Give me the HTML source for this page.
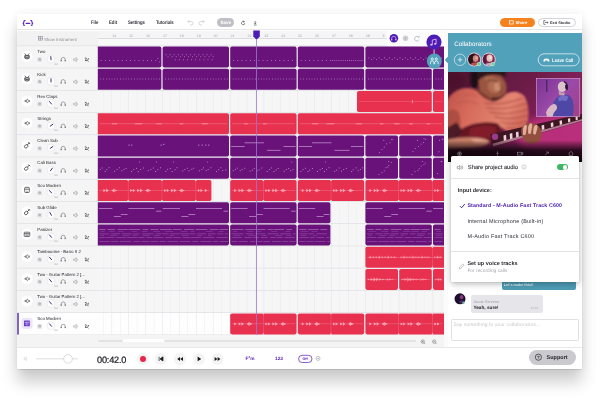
<!DOCTYPE html>
<html><head><meta charset="utf-8"><title>Studio</title>
<style>
*{box-sizing:border-box;margin:0;padding:0}
html,body{width:600px;height:402px;overflow:hidden;background:#fff;font-family:"Liberation Sans",sans-serif;text-rendering:geometricPrecision;}
.abs{position:absolute}
#win{position:absolute;left:17px;top:14px;width:565px;height:355px;background:#fff;box-shadow:0 13px 15px rgba(0,0,0,.2),0 0 9px rgba(0,0,0,.07),0 .5px 1px rgba(0,0,0,.1);}
.t{position:absolute;white-space:nowrap;line-height:1}
#all{position:absolute;left:0;top:0;width:600px;height:402px;will-change:transform}
.pill{position:absolute;border-radius:20px}
</style></head><body>
<div id="all"><div id="win"></div>
<div class="abs" style="left:17px;top:14px;width:565px;height:16.2px;background:#fff;border-bottom:0.7px solid #e6e6e9"></div>
<svg class="abs" style="left:22.4px;top:19.6px" width="11.8" height="6.4" viewBox="0 1 14 7.6" preserveAspectRatio="none"><g fill="none" stroke="#5a22b5" stroke-width="1.3" stroke-linecap="round" stroke-linejoin="round"><path d="M3.6 1.6 Q2.2 1.6 2.2 3 Q2.2 4.6 1.3 5 Q2.2 5.4 2.2 7 Q2.2 8.4 3.6 8.4"/><path d="M10.4 1.6 Q11.8 1.6 11.8 3 Q11.8 4.6 12.7 5 Q11.8 5.4 11.8 7 Q11.8 8.4 10.4 8.4"/><path d="M4.8 5 H9.2"/></g></svg>
<div class="t" style="left:91px;top:21.36px;font-size:5.1px;color:#30303a;font-weight:bold;transform:scaleX(.84);transform-origin:0 50%;">File</div>
<div class="t" style="left:109.2px;top:21.36px;font-size:5.1px;color:#30303a;font-weight:bold;transform:scaleX(.84);transform-origin:0 50%;">Edit</div>
<div class="t" style="left:128.3px;top:21.36px;font-size:5.1px;color:#30303a;font-weight:bold;transform:scaleX(.84);transform-origin:0 50%;">Settings</div>
<div class="t" style="left:156.3px;top:21.36px;font-size:5.1px;color:#30303a;font-weight:bold;transform:scaleX(.84);transform-origin:0 50%;">Tutorials</div>
<svg class="abs" style="left:186.2px;top:19.2px" width="20" height="7" viewBox="0 0 20 7"><g fill="none" stroke="#c8c8ce" stroke-width="0.7"><path d="M2 2.5 H5 Q7 2.5 7 4.2 Q7 6 5 6 H4"/><path d="M3.3 1 L1.8 2.5 L3.3 4"/><path d="M18 2.5 H15 Q13 2.5 13 4.2 Q13 6 15 6 H16"/><path d="M16.7 1 L18.2 2.5 L16.7 4"/></g></svg>
<div class="pill" style="left:216.5px;top:18px;width:17.5px;height:9px;background:#bfbfc5"></div>
<div class="t" style="left:220.4px;top:20.94px;font-size:4.6px;color:#fff;font-weight:bold;">Save</div>
<svg class="abs" style="left:240px;top:18.5px" width="20" height="8" viewBox="0 0 20 8"><g fill="none" stroke="#3a3a44" stroke-width="0.6"><path d="M4.3 2.7 A1.7 1.7 0 1 0 4.9 4.2"/><path d="M3.5 1.7 L4.5 2.8 L3.2 3.3"/><path d="M15.2 2 V4.8 M14.1 3.8 L15.2 4.9 L16.3 3.8 M13.8 6 H16.6"/></g></svg>
<div class="pill" style="left:500px;top:17.8px;width:35px;height:9.4px;background:#f5821f"></div>
<div class="t" style="left:515.4px;top:21.05px;font-size:4.3px;color:#fff;font-weight:bold;">Share</div>
<svg class="abs" style="left:509px;top:20.1px" width="5" height="5" viewBox="0 0 5 5"><rect x="0.6" y="0.8" width="3.6" height="3.2" fill="none" stroke="#fff" stroke-width="0.7"/></svg>
<div class="pill" style="left:538px;top:17.8px;width:37.5px;height:9.4px;background:#fff;border:0.7px solid #d2d2d8"></div>
<div class="t" style="left:550px;top:21.20px;font-size:3.9px;color:#33333b;font-weight:bold;">Exit Studio</div>
<svg class="abs" style="left:543px;top:20px" width="6" height="5" viewBox="0 0 6 5"><g fill="none" stroke="#33333b" stroke-width="0.6"><path d="M2.4 0.6 H0.8 V4.4 H2.4"/><path d="M2 2.5 H5 M3.9 1.4 L5 2.5 L3.9 3.6"/></g></svg>
<div class="abs" style="left:17px;top:30.6px;width:431px;height:15.7px;background:#f2f2f3"></div>
<div class="abs" style="left:97.5px;top:30.6px;width:346.5px;height:8.6px;background:#f5f5f6;border-bottom:0.6px solid #dcdce0"></div>
<div class="abs" style="left:97.5px;top:39.4px;width:346.5px;height:6.9px;background:#f9f9fa"></div>
<svg class="abs" style="left:37.5px;top:36.4px" width="5" height="5" viewBox="0 0 5 5"><g fill="none" stroke="#8a8a92" stroke-width="0.6"><rect x="0.5" y="0.5" width="3.8" height="3.6"/><path d="M0.5 2.3 H4.3 M2.4 0.5 V4.1"/></g></svg>
<div class="t" style="left:43.9px;top:37.72px;font-size:4.4px;color:#8f8f97;">Show Instrument</div>
<div class="t" style="left:112.2px;top:34.90px;font-size:3.6px;color:#a6a6ad;">14</div>
<div class="t" style="left:129.1px;top:34.90px;font-size:3.6px;color:#a6a6ad;">15</div>
<div class="t" style="left:146.0px;top:34.90px;font-size:3.6px;color:#a6a6ad;">16</div>
<div class="t" style="left:162.9px;top:34.90px;font-size:3.6px;color:#a6a6ad;">17</div>
<div class="t" style="left:179.8px;top:34.90px;font-size:3.6px;color:#a6a6ad;">18</div>
<div class="t" style="left:196.7px;top:34.90px;font-size:3.6px;color:#a6a6ad;">19</div>
<div class="t" style="left:213.6px;top:34.90px;font-size:3.6px;color:#a6a6ad;">20</div>
<div class="t" style="left:230.5px;top:34.90px;font-size:3.6px;color:#a6a6ad;">21</div>
<div class="t" style="left:247.4px;top:34.90px;font-size:3.6px;color:#a6a6ad;">22</div>
<div class="t" style="left:264.3px;top:34.90px;font-size:3.6px;color:#a6a6ad;">23</div>
<div class="t" style="left:281.2px;top:34.90px;font-size:3.6px;color:#a6a6ad;">24</div>
<div class="t" style="left:298.1px;top:34.90px;font-size:3.6px;color:#a6a6ad;">25</div>
<div class="t" style="left:315.0px;top:34.90px;font-size:3.6px;color:#a6a6ad;">26</div>
<div class="t" style="left:331.9px;top:34.90px;font-size:3.6px;color:#a6a6ad;">27</div>
<div class="t" style="left:348.8px;top:34.90px;font-size:3.6px;color:#a6a6ad;">28</div>
<div class="t" style="left:365.7px;top:34.90px;font-size:3.6px;color:#a6a6ad;">29</div>
<div class="t" style="left:382.6px;top:34.90px;font-size:3.6px;color:#a6a6ad;">3</div>
<div class="abs" style="left:17px;top:46.0px;width:80.5px;height:289.0px;background:#f5f5f6"></div>
<div class="abs" style="left:97.5px;top:46.0px;width:346.5px;height:289.0px;background:#f6f6f7"></div>
<div class="abs" style="left:17px;top:312.8px;width:427px;height:22.23px;background:#fefefe"></div>
<div class="abs" style="left:17px;top:312.8px;width:1.5px;height:22.23px;background:#8463c4"></div>
<svg class="abs" style="left:0;top:0" width="600" height="402" viewBox="0 0 600 402"><defs><clipPath id="cc"><rect x="97.8" y="40" width="346.2" height="300"/></clipPath></defs><rect x="103.1" y="46.0" width="0.5" height="289.0" fill="#eeeef0"/><rect x="111.5" y="46.0" width="0.6" height="289.0" fill="#e7e7ea"/><rect x="120.0" y="46.0" width="0.5" height="289.0" fill="#eeeef0"/><rect x="128.4" y="46.0" width="0.6" height="289.0" fill="#e7e7ea"/><rect x="136.8" y="46.0" width="0.5" height="289.0" fill="#eeeef0"/><rect x="145.3" y="46.0" width="0.6" height="289.0" fill="#e7e7ea"/><rect x="153.8" y="46.0" width="0.5" height="289.0" fill="#eeeef0"/><rect x="162.2" y="46.0" width="0.6" height="289.0" fill="#e7e7ea"/><rect x="170.6" y="46.0" width="0.5" height="289.0" fill="#eeeef0"/><rect x="179.1" y="46.0" width="0.6" height="289.0" fill="#e7e7ea"/><rect x="187.5" y="46.0" width="0.5" height="289.0" fill="#eeeef0"/><rect x="196.0" y="46.0" width="0.6" height="289.0" fill="#e7e7ea"/><rect x="204.4" y="46.0" width="0.5" height="289.0" fill="#eeeef0"/><rect x="212.9" y="46.0" width="0.6" height="289.0" fill="#e7e7ea"/><rect x="221.3" y="46.0" width="0.5" height="289.0" fill="#eeeef0"/><rect x="229.8" y="46.0" width="0.6" height="289.0" fill="#e7e7ea"/><rect x="238.2" y="46.0" width="0.5" height="289.0" fill="#eeeef0"/><rect x="246.7" y="46.0" width="0.6" height="289.0" fill="#e7e7ea"/><rect x="255.1" y="46.0" width="0.5" height="289.0" fill="#eeeef0"/><rect x="263.6" y="46.0" width="0.6" height="289.0" fill="#e7e7ea"/><rect x="272.1" y="46.0" width="0.5" height="289.0" fill="#eeeef0"/><rect x="280.5" y="46.0" width="0.6" height="289.0" fill="#e7e7ea"/><rect x="288.9" y="46.0" width="0.5" height="289.0" fill="#eeeef0"/><rect x="297.4" y="46.0" width="0.6" height="289.0" fill="#e7e7ea"/><rect x="305.8" y="46.0" width="0.5" height="289.0" fill="#eeeef0"/><rect x="314.3" y="46.0" width="0.6" height="289.0" fill="#e7e7ea"/><rect x="322.7" y="46.0" width="0.5" height="289.0" fill="#eeeef0"/><rect x="331.2" y="46.0" width="0.6" height="289.0" fill="#e7e7ea"/><rect x="339.6" y="46.0" width="0.5" height="289.0" fill="#eeeef0"/><rect x="348.1" y="46.0" width="0.6" height="289.0" fill="#e7e7ea"/><rect x="356.6" y="46.0" width="0.5" height="289.0" fill="#eeeef0"/><rect x="365.0" y="46.0" width="0.6" height="289.0" fill="#e7e7ea"/><rect x="373.4" y="46.0" width="0.5" height="289.0" fill="#eeeef0"/><rect x="381.9" y="46.0" width="0.6" height="289.0" fill="#e7e7ea"/><rect x="390.3" y="46.0" width="0.5" height="289.0" fill="#eeeef0"/><rect x="398.8" y="46.0" width="0.6" height="289.0" fill="#e7e7ea"/><rect x="407.2" y="46.0" width="0.5" height="289.0" fill="#eeeef0"/><rect x="415.7" y="46.0" width="0.6" height="289.0" fill="#e7e7ea"/><rect x="424.1" y="46.0" width="0.5" height="289.0" fill="#eeeef0"/><rect x="432.6" y="46.0" width="0.6" height="289.0" fill="#e7e7ea"/><rect x="441.0" y="46.0" width="0.5" height="289.0" fill="#eeeef0"/><rect x="17" y="45.5" width="427" height="0.7" fill="#e0e0e4"/><rect x="17" y="67.7" width="427" height="0.7" fill="#e0e0e4"/><rect x="17" y="90.0" width="427" height="0.7" fill="#e0e0e4"/><rect x="17" y="112.2" width="427" height="0.7" fill="#e0e0e4"/><rect x="17" y="134.4" width="427" height="0.7" fill="#e0e0e4"/><rect x="17" y="156.7" width="427" height="0.7" fill="#e0e0e4"/><rect x="17" y="178.9" width="427" height="0.7" fill="#e0e0e4"/><rect x="17" y="201.1" width="427" height="0.7" fill="#e0e0e4"/><rect x="17" y="223.3" width="427" height="0.7" fill="#e0e0e4"/><rect x="17" y="245.6" width="427" height="0.7" fill="#e0e0e4"/><rect x="17" y="267.8" width="427" height="0.7" fill="#e0e0e4"/><rect x="17" y="290.0" width="427" height="0.7" fill="#e0e0e4"/><rect x="17" y="312.3" width="427" height="0.7" fill="#e0e0e4"/><rect x="17" y="334.5" width="427" height="0.7" fill="#e0e0e4"/><g clip-path="url(#cc)"><rect x="94.6" y="46.6" width="66.8" height="21.0" rx="1.8" fill="#69137a"/><rect x="100.8" y="60.0" width="0.8" height="0.8" fill="#c79ad6"/><rect x="105.0" y="60.0" width="0.8" height="0.8" fill="#c79ad6"/><rect x="109.2" y="60.0" width="0.8" height="0.8" fill="#c79ad6"/><rect x="113.4" y="60.0" width="0.8" height="0.8" fill="#c79ad6"/><rect x="117.6" y="60.0" width="0.8" height="0.8" fill="#c79ad6"/><rect x="121.8" y="60.0" width="0.8" height="0.8" fill="#c79ad6"/><rect x="126.0" y="60.0" width="0.8" height="0.8" fill="#c79ad6"/><rect x="130.2" y="60.0" width="0.8" height="0.8" fill="#c79ad6"/><rect x="134.4" y="60.0" width="0.8" height="0.8" fill="#c79ad6"/><rect x="138.6" y="60.0" width="0.8" height="0.8" fill="#c79ad6"/><rect x="142.8" y="60.0" width="0.8" height="0.8" fill="#c79ad6"/><rect x="147.0" y="60.0" width="0.8" height="0.8" fill="#c79ad6"/><rect x="151.2" y="60.0" width="0.8" height="0.8" fill="#c79ad6"/><rect x="155.4" y="60.0" width="0.8" height="0.8" fill="#c79ad6"/><rect x="157.4" y="58.0" width="0.8" height="0.8" fill="#c79ad6"/><rect x="158.8" y="61.6" width="0.8" height="0.8" fill="#c79ad6"/><rect x="162.6" y="46.6" width="66.4" height="21.0" rx="1.8" fill="#69137a"/><rect x="165.6" y="54.4" width="0.8" height="0.8" fill="#c79ad6"/><rect x="167.6" y="56.4" width="0.8" height="0.8" fill="#c79ad6"/><rect x="169.7" y="54.4" width="0.8" height="0.8" fill="#c79ad6"/><rect x="171.7" y="56.4" width="0.8" height="0.8" fill="#c79ad6"/><rect x="173.8" y="54.4" width="0.8" height="0.8" fill="#c79ad6"/><rect x="175.8" y="56.4" width="0.8" height="0.8" fill="#c79ad6"/><rect x="174.8" y="59.4" width="0.8" height="0.8" fill="#c79ad6"/><rect x="177.9" y="54.4" width="0.8" height="0.8" fill="#c79ad6"/><rect x="179.9" y="56.4" width="0.8" height="0.8" fill="#c79ad6"/><rect x="178.9" y="59.4" width="0.8" height="0.8" fill="#c79ad6"/><rect x="182.0" y="54.4" width="0.8" height="0.8" fill="#c79ad6"/><rect x="184.0" y="56.4" width="0.8" height="0.8" fill="#c79ad6"/><rect x="183.0" y="59.4" width="0.8" height="0.8" fill="#c79ad6"/><rect x="186.1" y="54.4" width="0.8" height="0.8" fill="#c79ad6"/><rect x="188.1" y="56.4" width="0.8" height="0.8" fill="#c79ad6"/><rect x="187.1" y="59.4" width="0.8" height="0.8" fill="#c79ad6"/><rect x="190.2" y="54.4" width="0.8" height="0.8" fill="#c79ad6"/><rect x="192.2" y="56.4" width="0.8" height="0.8" fill="#c79ad6"/><rect x="191.2" y="59.4" width="0.8" height="0.8" fill="#c79ad6"/><rect x="194.3" y="54.4" width="0.8" height="0.8" fill="#c79ad6"/><rect x="196.3" y="56.4" width="0.8" height="0.8" fill="#c79ad6"/><rect x="195.3" y="59.4" width="0.8" height="0.8" fill="#c79ad6"/><rect x="198.4" y="54.4" width="0.8" height="0.8" fill="#c79ad6"/><rect x="200.4" y="56.4" width="0.8" height="0.8" fill="#c79ad6"/><rect x="199.4" y="59.4" width="0.8" height="0.8" fill="#c79ad6"/><rect x="202.5" y="54.4" width="0.8" height="0.8" fill="#c79ad6"/><rect x="204.5" y="56.4" width="0.8" height="0.8" fill="#c79ad6"/><rect x="203.5" y="59.4" width="0.8" height="0.8" fill="#c79ad6"/><rect x="206.6" y="54.4" width="0.8" height="0.8" fill="#c79ad6"/><rect x="208.6" y="56.4" width="0.8" height="0.8" fill="#c79ad6"/><rect x="207.6" y="59.4" width="0.8" height="0.8" fill="#c79ad6"/><rect x="210.7" y="54.4" width="0.8" height="0.8" fill="#c79ad6"/><rect x="212.7" y="56.4" width="0.8" height="0.8" fill="#c79ad6"/><rect x="211.7" y="59.4" width="0.8" height="0.8" fill="#c79ad6"/><rect x="230.2" y="46.6" width="66.4" height="21.0" rx="1.8" fill="#69137a"/><rect x="233.2" y="60.0" width="0.8" height="0.8" fill="#c79ad6"/><rect x="237.4" y="60.0" width="0.8" height="0.8" fill="#c79ad6"/><rect x="241.6" y="60.0" width="0.8" height="0.8" fill="#c79ad6"/><rect x="245.8" y="60.0" width="0.8" height="0.8" fill="#c79ad6"/><rect x="250.0" y="60.0" width="0.8" height="0.8" fill="#c79ad6"/><rect x="254.2" y="60.0" width="0.8" height="0.8" fill="#c79ad6"/><rect x="258.4" y="60.0" width="0.8" height="0.8" fill="#c79ad6"/><rect x="262.6" y="60.0" width="0.8" height="0.8" fill="#c79ad6"/><rect x="266.8" y="60.0" width="0.8" height="0.8" fill="#c79ad6"/><rect x="271.0" y="60.0" width="0.8" height="0.8" fill="#c79ad6"/><rect x="275.2" y="60.0" width="0.8" height="0.8" fill="#c79ad6"/><rect x="279.4" y="60.0" width="0.8" height="0.8" fill="#c79ad6"/><rect x="283.6" y="60.0" width="0.8" height="0.8" fill="#c79ad6"/><rect x="287.8" y="60.0" width="0.8" height="0.8" fill="#c79ad6"/><rect x="292.0" y="60.0" width="0.8" height="0.8" fill="#c79ad6"/><rect x="297.8" y="46.6" width="66.4" height="21.0" rx="1.8" fill="#69137a"/><rect x="300.8" y="60.0" width="0.8" height="0.8" fill="#c79ad6"/><rect x="305.0" y="60.0" width="0.8" height="0.8" fill="#c79ad6"/><rect x="309.2" y="60.0" width="0.8" height="0.8" fill="#c79ad6"/><rect x="313.4" y="60.0" width="0.8" height="0.8" fill="#c79ad6"/><rect x="317.6" y="60.0" width="0.8" height="0.8" fill="#c79ad6"/><rect x="321.8" y="60.0" width="0.8" height="0.8" fill="#c79ad6"/><rect x="326.0" y="60.0" width="0.8" height="0.8" fill="#c79ad6"/><rect x="330.2" y="60.0" width="0.8" height="0.8" fill="#c79ad6"/><rect x="332.3" y="60.0" width="0.8" height="0.8" fill="#c79ad6"/><rect x="334.4" y="60.0" width="0.8" height="0.8" fill="#c79ad6"/><rect x="336.5" y="60.0" width="0.8" height="0.8" fill="#c79ad6"/><rect x="338.6" y="60.0" width="0.8" height="0.8" fill="#c79ad6"/><rect x="340.7" y="60.0" width="0.8" height="0.8" fill="#c79ad6"/><rect x="342.8" y="60.0" width="0.8" height="0.8" fill="#c79ad6"/><rect x="344.9" y="60.0" width="0.8" height="0.8" fill="#c79ad6"/><rect x="347.0" y="60.0" width="0.8" height="0.8" fill="#c79ad6"/><rect x="349.1" y="60.0" width="0.8" height="0.8" fill="#c79ad6"/><rect x="351.2" y="60.0" width="0.8" height="0.8" fill="#c79ad6"/><rect x="353.3" y="60.0" width="0.8" height="0.8" fill="#c79ad6"/><rect x="355.4" y="60.0" width="0.8" height="0.8" fill="#c79ad6"/><rect x="357.5" y="60.0" width="0.8" height="0.8" fill="#c79ad6"/><rect x="359.6" y="60.0" width="0.8" height="0.8" fill="#c79ad6"/><rect x="361.7" y="60.0" width="0.8" height="0.8" fill="#c79ad6"/><rect x="365.4" y="46.6" width="82.0" height="21.0" rx="1.8" fill="#69137a"/><rect x="368.4" y="57.5" width="0.8" height="0.8" fill="#c79ad6"/><rect x="371.0" y="59.1" width="0.8" height="0.8" fill="#c79ad6"/><rect x="373.6" y="57.5" width="0.8" height="0.8" fill="#c79ad6"/><rect x="376.2" y="59.1" width="0.8" height="0.8" fill="#c79ad6"/><rect x="378.8" y="57.5" width="0.8" height="0.8" fill="#c79ad6"/><rect x="381.4" y="59.1" width="0.8" height="0.8" fill="#c79ad6"/><rect x="384.0" y="57.5" width="0.8" height="0.8" fill="#c79ad6"/><rect x="386.6" y="59.1" width="0.8" height="0.8" fill="#c79ad6"/><rect x="389.2" y="57.5" width="0.8" height="0.8" fill="#c79ad6"/><rect x="391.8" y="59.1" width="0.8" height="0.8" fill="#c79ad6"/><rect x="394.4" y="57.5" width="0.8" height="0.8" fill="#c79ad6"/><rect x="397.0" y="59.1" width="0.8" height="0.8" fill="#c79ad6"/><rect x="399.6" y="57.5" width="0.8" height="0.8" fill="#c79ad6"/><rect x="402.2" y="59.1" width="0.8" height="0.8" fill="#c79ad6"/><rect x="404.8" y="57.5" width="0.8" height="0.8" fill="#c79ad6"/><rect x="407.4" y="59.1" width="0.8" height="0.8" fill="#c79ad6"/><rect x="410.0" y="57.5" width="0.8" height="0.8" fill="#c79ad6"/><rect x="412.6" y="59.1" width="0.8" height="0.8" fill="#c79ad6"/><rect x="415.2" y="57.5" width="0.8" height="0.8" fill="#c79ad6"/><rect x="417.8" y="59.1" width="0.8" height="0.8" fill="#c79ad6"/><rect x="420.4" y="57.5" width="0.8" height="0.8" fill="#c79ad6"/><rect x="423.0" y="59.1" width="0.8" height="0.8" fill="#c79ad6"/><rect x="425.6" y="57.5" width="0.8" height="0.8" fill="#c79ad6"/><rect x="428.2" y="59.1" width="0.8" height="0.8" fill="#c79ad6"/><rect x="430.8" y="57.5" width="0.8" height="0.8" fill="#c79ad6"/><rect x="433.4" y="59.1" width="0.8" height="0.8" fill="#c79ad6"/><rect x="436.0" y="57.5" width="0.8" height="0.8" fill="#c79ad6"/><rect x="438.6" y="59.1" width="0.8" height="0.8" fill="#c79ad6"/><rect x="441.2" y="57.5" width="0.8" height="0.8" fill="#c79ad6"/><rect x="94.6" y="68.8" width="66.8" height="21.0" rx="1.8" fill="#69137a"/><rect x="100.4" y="78.6" width="0.8" height="0.8" fill="#c79ad6"/><rect x="103.2" y="78.6" width="0.8" height="0.8" fill="#c79ad6"/><rect x="106.0" y="78.6" width="0.8" height="0.8" fill="#c79ad6"/><rect x="108.8" y="78.6" width="0.8" height="0.8" fill="#c79ad6"/><rect x="111.6" y="78.6" width="0.8" height="0.8" fill="#c79ad6"/><rect x="114.4" y="78.6" width="0.8" height="0.8" fill="#c79ad6"/><rect x="117.2" y="78.6" width="0.8" height="0.8" fill="#c79ad6"/><rect x="120.0" y="78.6" width="0.8" height="0.8" fill="#c79ad6"/><rect x="122.8" y="78.6" width="0.8" height="0.8" fill="#c79ad6"/><rect x="125.6" y="78.6" width="0.8" height="0.8" fill="#c79ad6"/><rect x="128.4" y="78.6" width="0.8" height="0.8" fill="#c79ad6"/><rect x="131.2" y="78.6" width="0.8" height="0.8" fill="#c79ad6"/><rect x="134.0" y="78.6" width="0.8" height="0.8" fill="#c79ad6"/><rect x="136.8" y="78.6" width="0.8" height="0.8" fill="#c79ad6"/><rect x="139.6" y="78.6" width="0.8" height="0.8" fill="#c79ad6"/><rect x="142.4" y="78.6" width="0.8" height="0.8" fill="#c79ad6"/><rect x="145.2" y="78.6" width="0.8" height="0.8" fill="#c79ad6"/><rect x="148.0" y="78.6" width="0.8" height="0.8" fill="#c79ad6"/><rect x="150.8" y="78.6" width="0.8" height="0.8" fill="#c79ad6"/><rect x="153.6" y="78.6" width="0.8" height="0.8" fill="#c79ad6"/><rect x="156.4" y="78.6" width="0.8" height="0.8" fill="#c79ad6"/><rect x="159.2" y="78.6" width="0.8" height="0.8" fill="#c79ad6"/><rect x="162.6" y="68.8" width="66.4" height="21.0" rx="1.8" fill="#69137a"/><rect x="165.2" y="78.6" width="0.8" height="0.8" fill="#c79ad6"/><rect x="168.0" y="78.6" width="0.8" height="0.8" fill="#c79ad6"/><rect x="170.8" y="78.6" width="0.8" height="0.8" fill="#c79ad6"/><rect x="173.6" y="78.6" width="0.8" height="0.8" fill="#c79ad6"/><rect x="176.4" y="78.6" width="0.8" height="0.8" fill="#c79ad6"/><rect x="179.2" y="78.6" width="0.8" height="0.8" fill="#c79ad6"/><rect x="182.0" y="78.6" width="0.8" height="0.8" fill="#c79ad6"/><rect x="184.8" y="78.6" width="0.8" height="0.8" fill="#c79ad6"/><rect x="187.6" y="78.6" width="0.8" height="0.8" fill="#c79ad6"/><rect x="190.4" y="78.6" width="0.8" height="0.8" fill="#c79ad6"/><rect x="193.2" y="78.6" width="0.8" height="0.8" fill="#c79ad6"/><rect x="196.0" y="78.6" width="0.8" height="0.8" fill="#c79ad6"/><rect x="198.8" y="78.6" width="0.8" height="0.8" fill="#c79ad6"/><rect x="201.6" y="78.6" width="0.8" height="0.8" fill="#c79ad6"/><rect x="204.4" y="78.6" width="0.8" height="0.8" fill="#c79ad6"/><rect x="207.2" y="78.6" width="0.8" height="0.8" fill="#c79ad6"/><rect x="210.0" y="78.6" width="0.8" height="0.8" fill="#c79ad6"/><rect x="212.8" y="78.6" width="0.8" height="0.8" fill="#c79ad6"/><rect x="215.6" y="78.6" width="0.8" height="0.8" fill="#c79ad6"/><rect x="218.4" y="78.6" width="0.8" height="0.8" fill="#c79ad6"/><rect x="221.2" y="78.6" width="0.8" height="0.8" fill="#c79ad6"/><rect x="224.0" y="78.6" width="0.8" height="0.8" fill="#c79ad6"/><rect x="226.8" y="78.6" width="0.8" height="0.8" fill="#c79ad6"/><rect x="230.2" y="68.8" width="66.4" height="21.0" rx="1.8" fill="#69137a"/><rect x="232.8" y="78.6" width="0.8" height="0.8" fill="#c79ad6"/><rect x="235.6" y="78.6" width="0.8" height="0.8" fill="#c79ad6"/><rect x="238.4" y="78.6" width="0.8" height="0.8" fill="#c79ad6"/><rect x="241.2" y="78.6" width="0.8" height="0.8" fill="#c79ad6"/><rect x="244.0" y="78.6" width="0.8" height="0.8" fill="#c79ad6"/><rect x="246.8" y="78.6" width="0.8" height="0.8" fill="#c79ad6"/><rect x="249.6" y="78.6" width="0.8" height="0.8" fill="#c79ad6"/><rect x="252.4" y="78.6" width="0.8" height="0.8" fill="#c79ad6"/><rect x="255.2" y="78.6" width="0.8" height="0.8" fill="#c79ad6"/><rect x="258.0" y="78.6" width="0.8" height="0.8" fill="#c79ad6"/><rect x="260.8" y="78.6" width="0.8" height="0.8" fill="#c79ad6"/><rect x="263.6" y="78.6" width="0.8" height="0.8" fill="#c79ad6"/><rect x="266.4" y="78.6" width="0.8" height="0.8" fill="#c79ad6"/><rect x="269.2" y="78.6" width="0.8" height="0.8" fill="#c79ad6"/><rect x="272.0" y="78.6" width="0.8" height="0.8" fill="#c79ad6"/><rect x="274.8" y="78.6" width="0.8" height="0.8" fill="#c79ad6"/><rect x="277.6" y="78.6" width="0.8" height="0.8" fill="#c79ad6"/><rect x="280.4" y="78.6" width="0.8" height="0.8" fill="#c79ad6"/><rect x="283.2" y="78.6" width="0.8" height="0.8" fill="#c79ad6"/><rect x="286.0" y="78.6" width="0.8" height="0.8" fill="#c79ad6"/><rect x="288.8" y="78.6" width="0.8" height="0.8" fill="#c79ad6"/><rect x="291.6" y="78.6" width="0.8" height="0.8" fill="#c79ad6"/><rect x="294.4" y="78.6" width="0.8" height="0.8" fill="#c79ad6"/><rect x="297.8" y="68.8" width="66.4" height="21.0" rx="1.8" fill="#69137a"/><rect x="300.4" y="78.6" width="0.8" height="0.8" fill="#c79ad6"/><rect x="303.2" y="78.6" width="0.8" height="0.8" fill="#c79ad6"/><rect x="306.0" y="78.6" width="0.8" height="0.8" fill="#c79ad6"/><rect x="308.8" y="78.6" width="0.8" height="0.8" fill="#c79ad6"/><rect x="311.6" y="78.6" width="0.8" height="0.8" fill="#c79ad6"/><rect x="314.4" y="78.6" width="0.8" height="0.8" fill="#c79ad6"/><rect x="317.2" y="78.6" width="0.8" height="0.8" fill="#c79ad6"/><rect x="320.0" y="78.6" width="0.8" height="0.8" fill="#c79ad6"/><rect x="322.8" y="78.6" width="0.8" height="0.8" fill="#c79ad6"/><rect x="325.6" y="78.6" width="0.8" height="0.8" fill="#c79ad6"/><rect x="328.4" y="78.6" width="0.8" height="0.8" fill="#c79ad6"/><rect x="331.2" y="78.6" width="0.8" height="0.8" fill="#c79ad6"/><rect x="334.0" y="78.6" width="0.8" height="0.8" fill="#c79ad6"/><rect x="336.8" y="78.6" width="0.8" height="0.8" fill="#c79ad6"/><rect x="339.6" y="78.6" width="0.8" height="0.8" fill="#c79ad6"/><rect x="342.4" y="78.6" width="0.8" height="0.8" fill="#c79ad6"/><rect x="345.2" y="78.6" width="0.8" height="0.8" fill="#c79ad6"/><rect x="348.0" y="78.6" width="0.8" height="0.8" fill="#c79ad6"/><rect x="350.8" y="78.6" width="0.8" height="0.8" fill="#c79ad6"/><rect x="353.6" y="78.6" width="0.8" height="0.8" fill="#c79ad6"/><rect x="356.4" y="78.6" width="0.8" height="0.8" fill="#c79ad6"/><rect x="359.2" y="78.6" width="0.8" height="0.8" fill="#c79ad6"/><rect x="362.0" y="78.6" width="0.8" height="0.8" fill="#c79ad6"/><rect x="365.4" y="68.8" width="66.4" height="21.0" rx="1.8" fill="#69137a"/><rect x="368.0" y="78.6" width="0.8" height="0.8" fill="#c79ad6"/><rect x="370.8" y="78.6" width="0.8" height="0.8" fill="#c79ad6"/><rect x="373.6" y="78.6" width="0.8" height="0.8" fill="#c79ad6"/><rect x="376.4" y="78.6" width="0.8" height="0.8" fill="#c79ad6"/><rect x="379.2" y="78.6" width="0.8" height="0.8" fill="#c79ad6"/><rect x="382.0" y="78.6" width="0.8" height="0.8" fill="#c79ad6"/><rect x="384.8" y="78.6" width="0.8" height="0.8" fill="#c79ad6"/><rect x="387.6" y="78.6" width="0.8" height="0.8" fill="#c79ad6"/><rect x="390.4" y="78.6" width="0.8" height="0.8" fill="#c79ad6"/><rect x="393.2" y="78.6" width="0.8" height="0.8" fill="#c79ad6"/><rect x="396.0" y="78.6" width="0.8" height="0.8" fill="#c79ad6"/><rect x="398.8" y="78.6" width="0.8" height="0.8" fill="#c79ad6"/><rect x="401.6" y="78.6" width="0.8" height="0.8" fill="#c79ad6"/><rect x="404.4" y="78.6" width="0.8" height="0.8" fill="#c79ad6"/><rect x="407.2" y="78.6" width="0.8" height="0.8" fill="#c79ad6"/><rect x="410.0" y="78.6" width="0.8" height="0.8" fill="#c79ad6"/><rect x="412.8" y="78.6" width="0.8" height="0.8" fill="#c79ad6"/><rect x="415.6" y="78.6" width="0.8" height="0.8" fill="#c79ad6"/><rect x="418.4" y="78.6" width="0.8" height="0.8" fill="#c79ad6"/><rect x="421.2" y="78.6" width="0.8" height="0.8" fill="#c79ad6"/><rect x="424.0" y="78.6" width="0.8" height="0.8" fill="#c79ad6"/><rect x="426.8" y="78.6" width="0.8" height="0.8" fill="#c79ad6"/><rect x="429.6" y="78.6" width="0.8" height="0.8" fill="#c79ad6"/><rect x="433.0" y="68.8" width="14.4" height="21.0" rx="1.8" fill="#69137a"/><rect x="435.6" y="78.6" width="0.8" height="0.8" fill="#c79ad6"/><rect x="438.4" y="78.6" width="0.8" height="0.8" fill="#c79ad6"/><rect x="441.2" y="78.6" width="0.8" height="0.8" fill="#c79ad6"/><rect x="357.0" y="91.1" width="74.8" height="21.0" rx="1.8" fill="#e8304f"/><rect x="359.0" y="101.4" width="70.8" height="0.4" fill="#f7a3b1" opacity="0.6"/><rect x="412.0" y="100.0" width="0.8" height="3.2" fill="#f7a3b1" opacity="0.9"/><rect x="433.0" y="91.1" width="14.4" height="21.0" rx="1.8" fill="#e8304f"/><rect x="435.0" y="101.4" width="7.0" height="0.4" fill="#f7a3b1" opacity="0.6"/><rect x="94.6" y="113.3" width="134.4" height="21.0" rx="1.8" fill="#e8304f"/><rect x="99.8" y="123.6" width="127.2" height="0.5" fill="#f7a3b1" opacity="0.7"/><rect x="111.8" y="123.2" width="5.3" height="1.2" fill="#f7a3b1" opacity="0.6"/><rect x="134.8" y="123.2" width="7.6" height="1.2" fill="#f7a3b1" opacity="0.6"/><rect x="156.2" y="123.2" width="5.5" height="1.2" fill="#f7a3b1" opacity="0.6"/><rect x="179.6" y="123.2" width="3.9" height="1.2" fill="#f7a3b1" opacity="0.6"/><rect x="201.8" y="123.2" width="6.1" height="1.2" fill="#f7a3b1" opacity="0.6"/><rect x="230.2" y="113.3" width="66.4" height="21.0" rx="1.8" fill="#e8304f"/><rect x="232.2" y="123.6" width="62.4" height="0.5" fill="#f7a3b1" opacity="0.7"/><rect x="244.2" y="123.2" width="3.5" height="1.2" fill="#f7a3b1" opacity="0.6"/><rect x="263.1" y="123.2" width="3.5" height="1.2" fill="#f7a3b1" opacity="0.6"/><rect x="297.8" y="113.3" width="149.6" height="21.0" rx="1.8" fill="#e8304f"/><rect x="299.8" y="123.6" width="142.2" height="0.5" fill="#f7a3b1" opacity="0.7"/><rect x="311.8" y="123.2" width="6.5" height="1.2" fill="#f7a3b1" opacity="0.6"/><rect x="326.5" y="123.2" width="7.9" height="1.2" fill="#f7a3b1" opacity="0.6"/><rect x="355.9" y="123.2" width="6.3" height="1.2" fill="#f7a3b1" opacity="0.6"/><rect x="379.8" y="123.2" width="3.8" height="1.2" fill="#f7a3b1" opacity="0.6"/><rect x="394.0" y="123.2" width="5.6" height="1.2" fill="#f7a3b1" opacity="0.6"/><rect x="408.9" y="123.2" width="4.0" height="1.2" fill="#f7a3b1" opacity="0.6"/><rect x="426.8" y="123.2" width="3.2" height="1.2" fill="#f7a3b1" opacity="0.6"/><rect x="94.6" y="135.5" width="134.4" height="21.0" rx="1.8" fill="#69137a"/><rect x="128.4" y="144.7" width="1.4" height="0.8" fill="#c79ad6"/><rect x="131.0" y="144.7" width="1.4" height="0.8" fill="#c79ad6"/><rect x="160.5" y="144.7" width="1.4" height="0.8" fill="#c79ad6"/><rect x="163.0" y="143.9" width="1.4" height="0.8" fill="#c79ad6"/><rect x="198.0" y="144.7" width="1.4" height="0.8" fill="#c79ad6"/><rect x="201.5" y="144.7" width="1.4" height="0.8" fill="#c79ad6"/><rect x="205.0" y="144.7" width="1.4" height="0.8" fill="#c79ad6"/><rect x="208.0" y="144.7" width="1.4" height="0.8" fill="#c79ad6"/><rect x="230.2" y="135.5" width="66.4" height="21.0" rx="1.8" fill="#69137a"/><rect x="231.2" y="146.3" width="13.4" height="0.7" fill="#c79ad6"/><rect x="244.6" y="142.5" width="19.4" height="0.7" fill="#c79ad6"/><rect x="267.0" y="149.9" width="13.5" height="0.7" fill="#c79ad6"/><rect x="283.5" y="146.3" width="12.1" height="0.7" fill="#c79ad6"/><rect x="297.8" y="135.5" width="66.4" height="21.0" rx="1.8" fill="#69137a"/><rect x="298.8" y="146.3" width="13.2" height="0.7" fill="#c79ad6"/><rect x="312.0" y="142.5" width="19.5" height="0.7" fill="#c79ad6"/><rect x="334.5" y="149.9" width="15.1" height="0.7" fill="#c79ad6"/><rect x="351.0" y="146.3" width="12.2" height="0.7" fill="#c79ad6"/><rect x="365.4" y="135.5" width="32.6" height="21.0" rx="1.8" fill="#69137a"/><rect x="379.0" y="152.1" width="0.9" height="0.8" fill="#c79ad6"/><rect x="381.5" y="149.2" width="0.9" height="0.8" fill="#c79ad6"/><rect x="383.8" y="146.7" width="0.9" height="0.8" fill="#c79ad6"/><rect x="386.0" y="143.5" width="0.9" height="0.8" fill="#c79ad6"/><rect x="389.5" y="142.4" width="0.9" height="0.8" fill="#c79ad6"/><rect x="391.5" y="139.3" width="0.9" height="0.8" fill="#c79ad6"/><rect x="383.3" y="139.9" width="0.9" height="0.8" fill="#c79ad6"/><rect x="391.5" y="138.9" width="0.9" height="0.8" fill="#c79ad6"/><rect x="399.2" y="135.5" width="32.6" height="21.0" rx="1.8" fill="#69137a"/><rect x="412.5" y="150.9" width="0.9" height="0.8" fill="#c79ad6"/><rect x="414.8" y="148.1" width="0.9" height="0.8" fill="#c79ad6"/><rect x="418.1" y="146.2" width="0.9" height="0.8" fill="#c79ad6"/><rect x="420.6" y="143.7" width="0.9" height="0.8" fill="#c79ad6"/><rect x="423.2" y="142.1" width="0.9" height="0.8" fill="#c79ad6"/><rect x="423.6" y="138.3" width="0.9" height="0.8" fill="#c79ad6"/><rect x="417.1" y="139.9" width="0.9" height="0.8" fill="#c79ad6"/><rect x="425.3" y="138.9" width="0.9" height="0.8" fill="#c79ad6"/><rect x="433.0" y="135.5" width="14.4" height="21.0" rx="1.8" fill="#69137a"/><rect x="438.4" y="151.4" width="0.9" height="0.8" fill="#c79ad6"/><rect x="442.5" y="138.7" width="0.9" height="0.8" fill="#c79ad6"/><rect x="439.1" y="139.9" width="0.9" height="0.8" fill="#c79ad6"/><rect x="441.8" y="138.9" width="0.9" height="0.8" fill="#c79ad6"/><rect x="94.6" y="157.8" width="134.4" height="21.0" rx="1.8" fill="#69137a"/><rect x="99.9" y="169.0" width="1.0" height="0.8" fill="#c79ad6"/><rect x="101.7" y="167.6" width="1.0" height="0.8" fill="#c79ad6"/><rect x="104.7" y="171.0" width="1.0" height="0.8" fill="#c79ad6"/><rect x="106.3" y="169.0" width="1.0" height="0.8" fill="#c79ad6"/><rect x="108.6" y="167.3" width="1.0" height="0.8" fill="#c79ad6"/><rect x="114.0" y="170.8" width="1.0" height="0.8" fill="#c79ad6"/><rect x="116.6" y="168.9" width="1.0" height="0.8" fill="#c79ad6"/><rect x="119.1" y="167.4" width="1.0" height="0.8" fill="#c79ad6"/><rect x="121.3" y="170.4" width="1.0" height="0.8" fill="#c79ad6"/><rect x="123.4" y="169.0" width="1.0" height="0.8" fill="#c79ad6"/><rect x="125.6" y="168.2" width="1.0" height="0.8" fill="#c79ad6"/><rect x="131.0" y="171.1" width="1.0" height="0.8" fill="#c79ad6"/><rect x="133.3" y="169.1" width="1.0" height="0.8" fill="#c79ad6"/><rect x="136.1" y="167.9" width="1.0" height="0.8" fill="#c79ad6"/><rect x="137.8" y="171.2" width="1.0" height="0.8" fill="#c79ad6"/><rect x="140.2" y="169.0" width="1.0" height="0.8" fill="#c79ad6"/><rect x="142.9" y="167.6" width="1.0" height="0.8" fill="#c79ad6"/><rect x="139.2" y="161.6" width="0.9" height="0.8" fill="#c79ad6"/><rect x="147.8" y="170.3" width="1.0" height="0.8" fill="#c79ad6"/><rect x="150.5" y="169.0" width="1.0" height="0.8" fill="#c79ad6"/><rect x="152.8" y="167.6" width="1.0" height="0.8" fill="#c79ad6"/><rect x="155.0" y="171.2" width="1.0" height="0.8" fill="#c79ad6"/><rect x="157.3" y="169.3" width="1.0" height="0.8" fill="#c79ad6"/><rect x="159.9" y="167.4" width="1.0" height="0.8" fill="#c79ad6"/><rect x="156.1" y="161.6" width="0.9" height="0.8" fill="#c79ad6"/><rect x="165.3" y="171.1" width="1.0" height="0.8" fill="#c79ad6"/><rect x="167.1" y="168.9" width="1.0" height="0.8" fill="#c79ad6"/><rect x="169.8" y="168.2" width="1.0" height="0.8" fill="#c79ad6"/><rect x="171.7" y="171.2" width="1.0" height="0.8" fill="#c79ad6"/><rect x="174.5" y="169.4" width="1.0" height="0.8" fill="#c79ad6"/><rect x="176.4" y="167.4" width="1.0" height="0.8" fill="#c79ad6"/><rect x="173.0" y="161.6" width="0.9" height="0.8" fill="#c79ad6"/><rect x="182.3" y="170.5" width="1.0" height="0.8" fill="#c79ad6"/><rect x="184.4" y="169.0" width="1.0" height="0.8" fill="#c79ad6"/><rect x="186.8" y="167.8" width="1.0" height="0.8" fill="#c79ad6"/><rect x="188.6" y="170.4" width="1.0" height="0.8" fill="#c79ad6"/><rect x="191.3" y="168.8" width="1.0" height="0.8" fill="#c79ad6"/><rect x="193.2" y="167.8" width="1.0" height="0.8" fill="#c79ad6"/><rect x="198.9" y="170.5" width="1.0" height="0.8" fill="#c79ad6"/><rect x="201.4" y="169.0" width="1.0" height="0.8" fill="#c79ad6"/><rect x="203.0" y="167.5" width="1.0" height="0.8" fill="#c79ad6"/><rect x="205.7" y="170.3" width="1.0" height="0.8" fill="#c79ad6"/><rect x="207.7" y="169.1" width="1.0" height="0.8" fill="#c79ad6"/><rect x="210.4" y="167.4" width="1.0" height="0.8" fill="#c79ad6"/><rect x="206.8" y="161.6" width="0.9" height="0.8" fill="#c79ad6"/><rect x="216.0" y="171.2" width="1.0" height="0.8" fill="#c79ad6"/><rect x="218.1" y="169.4" width="1.0" height="0.8" fill="#c79ad6"/><rect x="220.4" y="167.4" width="1.0" height="0.8" fill="#c79ad6"/><rect x="222.2" y="170.3" width="1.0" height="0.8" fill="#c79ad6"/><rect x="225.2" y="169.5" width="1.0" height="0.8" fill="#c79ad6"/><rect x="230.2" y="157.8" width="66.4" height="21.0" rx="1.8" fill="#69137a"/><rect x="232.7" y="170.4" width="1.0" height="0.8" fill="#c79ad6"/><rect x="234.9" y="168.9" width="1.0" height="0.8" fill="#c79ad6"/><rect x="236.8" y="167.7" width="1.0" height="0.8" fill="#c79ad6"/><rect x="239.7" y="170.4" width="1.0" height="0.8" fill="#c79ad6"/><rect x="241.6" y="169.1" width="1.0" height="0.8" fill="#c79ad6"/><rect x="244.3" y="167.8" width="1.0" height="0.8" fill="#c79ad6"/><rect x="249.7" y="170.6" width="1.0" height="0.8" fill="#c79ad6"/><rect x="252.0" y="169.7" width="1.0" height="0.8" fill="#c79ad6"/><rect x="253.8" y="168.2" width="1.0" height="0.8" fill="#c79ad6"/><rect x="256.6" y="170.4" width="1.0" height="0.8" fill="#c79ad6"/><rect x="258.7" y="169.4" width="1.0" height="0.8" fill="#c79ad6"/><rect x="261.3" y="167.6" width="1.0" height="0.8" fill="#c79ad6"/><rect x="266.7" y="171.0" width="1.0" height="0.8" fill="#c79ad6"/><rect x="269.1" y="169.2" width="1.0" height="0.8" fill="#c79ad6"/><rect x="271.1" y="167.5" width="1.0" height="0.8" fill="#c79ad6"/><rect x="273.5" y="171.1" width="1.0" height="0.8" fill="#c79ad6"/><rect x="275.7" y="169.5" width="1.0" height="0.8" fill="#c79ad6"/><rect x="277.7" y="168.1" width="1.0" height="0.8" fill="#c79ad6"/><rect x="283.7" y="170.8" width="1.0" height="0.8" fill="#c79ad6"/><rect x="285.8" y="169.1" width="1.0" height="0.8" fill="#c79ad6"/><rect x="288.2" y="168.1" width="1.0" height="0.8" fill="#c79ad6"/><rect x="290.1" y="170.3" width="1.0" height="0.8" fill="#c79ad6"/><rect x="292.5" y="169.3" width="1.0" height="0.8" fill="#c79ad6"/><rect x="291.3" y="161.6" width="0.9" height="0.8" fill="#c79ad6"/><rect x="297.8" y="157.8" width="66.4" height="21.0" rx="1.8" fill="#69137a"/><rect x="300.4" y="171.1" width="1.0" height="0.8" fill="#c79ad6"/><rect x="302.6" y="169.2" width="1.0" height="0.8" fill="#c79ad6"/><rect x="304.9" y="167.8" width="1.0" height="0.8" fill="#c79ad6"/><rect x="307.5" y="171.1" width="1.0" height="0.8" fill="#c79ad6"/><rect x="309.2" y="169.7" width="1.0" height="0.8" fill="#c79ad6"/><rect x="311.9" y="168.0" width="1.0" height="0.8" fill="#c79ad6"/><rect x="317.0" y="171.1" width="1.0" height="0.8" fill="#c79ad6"/><rect x="319.7" y="169.4" width="1.0" height="0.8" fill="#c79ad6"/><rect x="321.9" y="168.0" width="1.0" height="0.8" fill="#c79ad6"/><rect x="323.9" y="171.0" width="1.0" height="0.8" fill="#c79ad6"/><rect x="326.0" y="169.1" width="1.0" height="0.8" fill="#c79ad6"/><rect x="328.6" y="167.3" width="1.0" height="0.8" fill="#c79ad6"/><rect x="325.1" y="161.6" width="0.9" height="0.8" fill="#c79ad6"/><rect x="334.1" y="170.9" width="1.0" height="0.8" fill="#c79ad6"/><rect x="336.1" y="169.7" width="1.0" height="0.8" fill="#c79ad6"/><rect x="338.7" y="167.6" width="1.0" height="0.8" fill="#c79ad6"/><rect x="341.0" y="170.8" width="1.0" height="0.8" fill="#c79ad6"/><rect x="343.2" y="169.1" width="1.0" height="0.8" fill="#c79ad6"/><rect x="345.9" y="167.9" width="1.0" height="0.8" fill="#c79ad6"/><rect x="351.1" y="171.2" width="1.0" height="0.8" fill="#c79ad6"/><rect x="352.8" y="169.4" width="1.0" height="0.8" fill="#c79ad6"/><rect x="355.7" y="167.5" width="1.0" height="0.8" fill="#c79ad6"/><rect x="357.7" y="170.3" width="1.0" height="0.8" fill="#c79ad6"/><rect x="359.9" y="169.1" width="1.0" height="0.8" fill="#c79ad6"/><rect x="362.1" y="167.5" width="1.0" height="0.8" fill="#c79ad6"/><rect x="365.4" y="157.8" width="32.6" height="21.0" rx="1.8" fill="#69137a"/><rect x="378.5" y="174.2" width="0.9" height="0.8" fill="#c79ad6"/><rect x="381.5" y="172.3" width="0.9" height="0.8" fill="#c79ad6"/><rect x="383.8" y="170.4" width="0.9" height="0.8" fill="#c79ad6"/><rect x="385.6" y="167.3" width="0.9" height="0.8" fill="#c79ad6"/><rect x="387.3" y="166.7" width="0.9" height="0.8" fill="#c79ad6"/><rect x="388.4" y="165.0" width="0.9" height="0.8" fill="#c79ad6"/><rect x="390.8" y="162.1" width="0.9" height="0.8" fill="#c79ad6"/><rect x="388.2" y="161.2" width="0.9" height="0.8" fill="#c79ad6"/><rect x="399.2" y="157.8" width="32.6" height="21.0" rx="1.8" fill="#69137a"/><rect x="411.6" y="174.1" width="0.9" height="0.8" fill="#c79ad6"/><rect x="414.6" y="171.3" width="0.9" height="0.8" fill="#c79ad6"/><rect x="417.5" y="170.0" width="0.9" height="0.8" fill="#c79ad6"/><rect x="418.8" y="168.3" width="0.9" height="0.8" fill="#c79ad6"/><rect x="420.7" y="165.7" width="0.9" height="0.8" fill="#c79ad6"/><rect x="423.4" y="164.3" width="0.9" height="0.8" fill="#c79ad6"/><rect x="424.8" y="162.6" width="0.9" height="0.8" fill="#c79ad6"/><rect x="422.0" y="161.2" width="0.9" height="0.8" fill="#c79ad6"/><rect x="433.0" y="157.8" width="14.4" height="21.0" rx="1.8" fill="#69137a"/><rect x="437.0" y="173.2" width="0.9" height="0.8" fill="#c79ad6"/><rect x="441.3" y="161.2" width="0.9" height="0.8" fill="#c79ad6"/><rect x="440.7" y="161.2" width="0.9" height="0.8" fill="#c79ad6"/><rect x="94.6" y="180.0" width="116.8" height="21.0" rx="1.8" fill="#e8304f"/><rect x="99.3" y="190.3" width="110.6" height="0.4" fill="#f7a3b1" opacity="0.75"/><path d="M103.4 188.8 L106.0 190.5 L103.4 192.2Z" fill="#f7a3b1"/><path d="M106.2 188.6 L108.8 190.5 L106.2 192.4Z" fill="#f7a3b1"/><path d="M114.4 188.4 L111.4 190.5 L114.4 192.6Z" fill="#f7a3b1"/><path d="M114.4 189.2 L117.4 190.5 L114.4 191.8Z" fill="#f7a3b1"/><path d="M130.2 189.0 L132.6 190.5 L130.2 192.0Z" fill="#f7a3b1"/><path d="M132.8 188.8 L135.2 190.5 L132.8 192.2Z" fill="#f7a3b1"/><path d="M137.2 188.8 L139.8 190.5 L137.2 192.2Z" fill="#f7a3b1"/><path d="M140.0 188.6 L142.6 190.5 L140.0 192.4Z" fill="#f7a3b1"/><path d="M148.2 188.4 L145.2 190.5 L148.2 192.6Z" fill="#f7a3b1"/><path d="M148.2 189.2 L151.2 190.5 L148.2 191.8Z" fill="#f7a3b1"/><path d="M164.0 189.0 L166.4 190.5 L164.0 192.0Z" fill="#f7a3b1"/><path d="M166.6 188.8 L169.0 190.5 L166.6 192.2Z" fill="#f7a3b1"/><path d="M171.0 188.8 L173.6 190.5 L171.0 192.2Z" fill="#f7a3b1"/><path d="M173.8 188.6 L176.4 190.5 L173.8 192.4Z" fill="#f7a3b1"/><path d="M182.0 188.4 L179.0 190.5 L182.0 192.6Z" fill="#f7a3b1"/><path d="M182.0 189.2 L185.0 190.5 L182.0 191.8Z" fill="#f7a3b1"/><path d="M197.8 189.0 L200.2 190.5 L197.8 192.0Z" fill="#f7a3b1"/><path d="M200.4 188.8 L202.8 190.5 L200.4 192.2Z" fill="#f7a3b1"/><path d="M204.8 188.8 L207.4 190.5 L204.8 192.2Z" fill="#f7a3b1"/><rect x="230.2" y="180.0" width="66.4" height="21.0" rx="1.8" fill="#e8304f"/><rect x="231.7" y="190.3" width="63.4" height="0.4" fill="#f7a3b1" opacity="0.75"/><path d="M234.2 188.8 L236.6 190.5 L234.2 192.2Z" fill="#f7a3b1"/><path d="M238.6 188.8 L241.2 190.5 L238.6 192.2Z" fill="#f7a3b1"/><path d="M241.4 188.6 L244.0 190.5 L241.4 192.4Z" fill="#f7a3b1"/><path d="M249.6 188.4 L246.6 190.5 L249.6 192.6Z" fill="#f7a3b1"/><path d="M249.6 189.2 L252.6 190.5 L249.6 191.8Z" fill="#f7a3b1"/><path d="M265.4 189.0 L267.8 190.5 L265.4 192.0Z" fill="#f7a3b1"/><path d="M268.0 188.8 L270.4 190.5 L268.0 192.2Z" fill="#f7a3b1"/><path d="M272.4 188.8 L275.0 190.5 L272.4 192.2Z" fill="#f7a3b1"/><path d="M275.2 188.6 L277.8 190.5 L275.2 192.4Z" fill="#f7a3b1"/><path d="M283.4 188.4 L280.4 190.5 L283.4 192.6Z" fill="#f7a3b1"/><path d="M283.4 189.2 L286.4 190.5 L283.4 191.8Z" fill="#f7a3b1"/><rect x="297.8" y="180.0" width="66.4" height="21.0" rx="1.8" fill="#e8304f"/><rect x="299.3" y="190.3" width="63.4" height="0.4" fill="#f7a3b1" opacity="0.75"/><path d="M301.8 188.8 L304.2 190.5 L301.8 192.2Z" fill="#f7a3b1"/><path d="M306.2 188.8 L308.8 190.5 L306.2 192.2Z" fill="#f7a3b1"/><path d="M309.0 188.6 L311.6 190.5 L309.0 192.4Z" fill="#f7a3b1"/><path d="M317.2 188.4 L314.2 190.5 L317.2 192.6Z" fill="#f7a3b1"/><path d="M317.2 189.2 L320.2 190.5 L317.2 191.8Z" fill="#f7a3b1"/><path d="M333.0 189.0 L335.4 190.5 L333.0 192.0Z" fill="#f7a3b1"/><path d="M335.6 188.8 L338.0 190.5 L335.6 192.2Z" fill="#f7a3b1"/><path d="M340.0 188.8 L342.6 190.5 L340.0 192.2Z" fill="#f7a3b1"/><path d="M342.8 188.6 L345.4 190.5 L342.8 192.4Z" fill="#f7a3b1"/><path d="M351.0 188.4 L348.0 190.5 L351.0 192.6Z" fill="#f7a3b1"/><path d="M351.0 189.2 L354.0 190.5 L351.0 191.8Z" fill="#f7a3b1"/><rect x="365.4" y="180.0" width="82.0" height="21.0" rx="1.8" fill="#e8304f"/><rect x="366.9" y="190.3" width="75.6" height="0.4" fill="#f7a3b1" opacity="0.75"/><path d="M369.4 188.8 L371.8 190.5 L369.4 192.2Z" fill="#f7a3b1"/><path d="M373.8 188.8 L376.4 190.5 L373.8 192.2Z" fill="#f7a3b1"/><path d="M376.6 188.6 L379.2 190.5 L376.6 192.4Z" fill="#f7a3b1"/><path d="M384.8 188.4 L381.8 190.5 L384.8 192.6Z" fill="#f7a3b1"/><path d="M384.8 189.2 L387.8 190.5 L384.8 191.8Z" fill="#f7a3b1"/><path d="M400.6 189.0 L403.0 190.5 L400.6 192.0Z" fill="#f7a3b1"/><path d="M403.2 188.8 L405.6 190.5 L403.2 192.2Z" fill="#f7a3b1"/><path d="M407.6 188.8 L410.2 190.5 L407.6 192.2Z" fill="#f7a3b1"/><path d="M410.4 188.6 L413.0 190.5 L410.4 192.4Z" fill="#f7a3b1"/><path d="M418.6 188.4 L415.6 190.5 L418.6 192.6Z" fill="#f7a3b1"/><path d="M418.6 189.2 L421.6 190.5 L418.6 191.8Z" fill="#f7a3b1"/><path d="M434.4 189.0 L436.8 190.5 L434.4 192.0Z" fill="#f7a3b1"/><path d="M437.0 188.8 L439.4 190.5 L437.0 192.2Z" fill="#f7a3b1"/><rect x="127.9" y="180.0" width="0.6" height="21.0" fill="#ee5f78"/><path d="M127.0 180.0 h2.4 l-1.2 1.2Z M127.0 201.0 h2.4 l-1.2 -1.2Z" fill="#f7f7f8"/><rect x="161.7" y="180.0" width="0.6" height="21.0" fill="#ee5f78"/><path d="M160.8 180.0 h2.4 l-1.2 1.2Z M160.8 201.0 h2.4 l-1.2 -1.2Z" fill="#f7f7f8"/><rect x="195.5" y="180.0" width="0.6" height="21.0" fill="#ee5f78"/><path d="M194.6 180.0 h2.4 l-1.2 1.2Z M194.6 201.0 h2.4 l-1.2 -1.2Z" fill="#f7f7f8"/><rect x="263.1" y="180.0" width="0.6" height="21.0" fill="#ee5f78"/><path d="M262.2 180.0 h2.4 l-1.2 1.2Z M262.2 201.0 h2.4 l-1.2 -1.2Z" fill="#f7f7f8"/><rect x="330.7" y="180.0" width="0.6" height="21.0" fill="#ee5f78"/><path d="M329.8 180.0 h2.4 l-1.2 1.2Z M329.8 201.0 h2.4 l-1.2 -1.2Z" fill="#f7f7f8"/><rect x="398.3" y="180.0" width="0.6" height="21.0" fill="#ee5f78"/><path d="M397.4 180.0 h2.4 l-1.2 1.2Z M397.4 201.0 h2.4 l-1.2 -1.2Z" fill="#f7f7f8"/><rect x="432.1" y="180.0" width="0.6" height="21.0" fill="#ee5f78"/><path d="M431.2 180.0 h2.4 l-1.2 1.2Z M431.2 201.0 h2.4 l-1.2 -1.2Z" fill="#f7f7f8"/><rect x="94.6" y="202.2" width="134.4" height="21.0" rx="1.8" fill="#69137a"/><rect x="98.8" y="208.0" width="13.6" height="0.7" fill="#c79ad6"/><rect x="113.8" y="216.3" width="7.0" height="0.7" fill="#c79ad6"/><rect x="120.8" y="214.2" width="6.8" height="0.7" fill="#c79ad6"/><rect x="128.4" y="208.0" width="26.0" height="0.7" fill="#c79ad6"/><rect x="156.0" y="210.8" width="5.4" height="0.7" fill="#c79ad6"/><rect x="162.7" y="208.0" width="17.3" height="0.7" fill="#c79ad6"/><rect x="181.4" y="216.3" width="7.0" height="0.7" fill="#c79ad6"/><rect x="188.4" y="214.2" width="6.8" height="0.7" fill="#c79ad6"/><rect x="196.0" y="208.0" width="26.0" height="0.7" fill="#c79ad6"/><rect x="223.6" y="210.8" width="4.4" height="0.7" fill="#c79ad6"/><rect x="230.2" y="202.2" width="66.4" height="21.0" rx="1.8" fill="#69137a"/><rect x="231.2" y="208.0" width="16.4" height="0.7" fill="#c79ad6"/><rect x="249.0" y="216.3" width="7.0" height="0.7" fill="#c79ad6"/><rect x="256.0" y="214.2" width="6.8" height="0.7" fill="#c79ad6"/><rect x="263.6" y="208.0" width="26.0" height="0.7" fill="#c79ad6"/><rect x="291.2" y="210.8" width="4.4" height="0.7" fill="#c79ad6"/><rect x="297.8" y="202.2" width="32.6" height="21.0" rx="1.8" fill="#69137a"/><rect x="298.8" y="208.0" width="16.4" height="0.7" fill="#c79ad6"/><rect x="316.6" y="216.3" width="7.0" height="0.7" fill="#c79ad6"/><rect x="323.6" y="214.2" width="5.8" height="0.7" fill="#c79ad6"/><rect x="365.4" y="202.2" width="82.0" height="21.0" rx="1.8" fill="#69137a"/><rect x="366.4" y="208.0" width="16.4" height="0.7" fill="#c79ad6"/><rect x="384.2" y="216.3" width="7.0" height="0.7" fill="#c79ad6"/><rect x="391.2" y="214.2" width="6.8" height="0.7" fill="#c79ad6"/><rect x="398.8" y="208.0" width="26.0" height="0.7" fill="#c79ad6"/><rect x="426.4" y="210.8" width="5.4" height="0.7" fill="#c79ad6"/><rect x="433.1" y="208.0" width="9.9" height="0.7" fill="#c79ad6"/><rect x="94.6" y="224.4" width="134.4" height="21.0" rx="1.8" fill="#69137a"/><rect x="99.3" y="229.4" width="6.1" height="0.6" fill="#b678c6"/><rect x="107.4" y="229.4" width="7.7" height="0.6" fill="#b678c6"/><rect x="117.5" y="229.4" width="10.2" height="0.6" fill="#b678c6"/><rect x="128.4" y="229.4" width="11.9" height="0.6" fill="#b678c6"/><rect x="142.7" y="229.4" width="5.5" height="0.6" fill="#b678c6"/><rect x="150.5" y="229.4" width="8.0" height="0.6" fill="#b678c6"/><rect x="160.1" y="229.4" width="11.8" height="0.6" fill="#b678c6"/><rect x="172.9" y="229.4" width="8.7" height="0.6" fill="#b678c6"/><rect x="184.0" y="229.4" width="10.1" height="0.6" fill="#b678c6"/><rect x="195.5" y="229.4" width="11.9" height="0.6" fill="#b678c6"/><rect x="209.5" y="229.4" width="9.2" height="0.6" fill="#b678c6"/><rect x="219.6" y="229.4" width="8.4" height="0.6" fill="#b678c6"/><rect x="100.8" y="231.0" width="4.0" height="0.5" fill="#8f4ca2"/><rect x="109.2" y="231.0" width="5.6" height="0.5" fill="#8f4ca2"/><rect x="118.2" y="231.0" width="5.2" height="0.5" fill="#8f4ca2"/><rect x="131.6" y="231.0" width="5.3" height="0.5" fill="#8f4ca2"/><rect x="141.7" y="231.0" width="5.9" height="0.5" fill="#8f4ca2"/><rect x="153.0" y="231.0" width="6.9" height="0.5" fill="#8f4ca2"/><rect x="165.3" y="231.0" width="8.0" height="0.5" fill="#8f4ca2"/><rect x="180.9" y="231.0" width="6.7" height="0.5" fill="#8f4ca2"/><rect x="190.8" y="231.0" width="3.6" height="0.5" fill="#8f4ca2"/><rect x="205.9" y="231.0" width="6.9" height="0.5" fill="#8f4ca2"/><rect x="218.9" y="231.0" width="4.8" height="0.5" fill="#8f4ca2"/><rect x="99.3" y="233.6" width="9.8" height="0.6" fill="#9a58ac"/><rect x="110.8" y="233.6" width="9.1" height="0.6" fill="#9a58ac"/><rect x="121.7" y="233.6" width="10.3" height="0.6" fill="#9a58ac"/><rect x="132.9" y="233.6" width="6.7" height="0.6" fill="#9a58ac"/><rect x="142.2" y="233.6" width="11.4" height="0.6" fill="#9a58ac"/><rect x="155.8" y="233.6" width="5.3" height="0.6" fill="#9a58ac"/><rect x="161.8" y="233.6" width="6.9" height="0.6" fill="#9a58ac"/><rect x="170.1" y="233.6" width="9.4" height="0.6" fill="#9a58ac"/><rect x="180.3" y="233.6" width="8.8" height="0.6" fill="#9a58ac"/><rect x="189.8" y="233.6" width="5.6" height="0.6" fill="#9a58ac"/><rect x="197.3" y="233.6" width="8.9" height="0.6" fill="#9a58ac"/><rect x="208.0" y="233.6" width="7.6" height="0.6" fill="#9a58ac"/><rect x="217.1" y="233.6" width="6.5" height="0.6" fill="#9a58ac"/><rect x="224.8" y="233.6" width="3.2" height="0.6" fill="#9a58ac"/><rect x="100.8" y="235.2" width="3.4" height="0.5" fill="#8f4ca2"/><rect x="109.8" y="235.2" width="7.0" height="0.5" fill="#8f4ca2"/><rect x="122.7" y="235.2" width="6.8" height="0.5" fill="#8f4ca2"/><rect x="132.5" y="235.2" width="5.1" height="0.5" fill="#8f4ca2"/><rect x="142.5" y="235.2" width="7.0" height="0.5" fill="#8f4ca2"/><rect x="153.5" y="235.2" width="6.3" height="0.5" fill="#8f4ca2"/><rect x="169.4" y="235.2" width="4.6" height="0.5" fill="#8f4ca2"/><rect x="181.8" y="235.2" width="6.7" height="0.5" fill="#8f4ca2"/><rect x="197.1" y="235.2" width="5.1" height="0.5" fill="#8f4ca2"/><rect x="208.1" y="235.2" width="3.5" height="0.5" fill="#8f4ca2"/><rect x="99.3" y="237.4" width="5.5" height="0.6" fill="#9a58ac"/><rect x="105.6" y="237.4" width="8.9" height="0.6" fill="#9a58ac"/><rect x="116.1" y="237.4" width="9.8" height="0.6" fill="#9a58ac"/><rect x="127.0" y="237.4" width="10.4" height="0.6" fill="#9a58ac"/><rect x="138.2" y="237.4" width="6.5" height="0.6" fill="#9a58ac"/><rect x="146.6" y="237.4" width="5.6" height="0.6" fill="#9a58ac"/><rect x="153.3" y="237.4" width="10.1" height="0.6" fill="#9a58ac"/><rect x="165.3" y="237.4" width="7.0" height="0.6" fill="#9a58ac"/><rect x="173.2" y="237.4" width="7.5" height="0.6" fill="#9a58ac"/><rect x="182.6" y="237.4" width="7.6" height="0.6" fill="#9a58ac"/><rect x="191.0" y="237.4" width="10.0" height="0.6" fill="#9a58ac"/><rect x="202.7" y="237.4" width="11.4" height="0.6" fill="#9a58ac"/><rect x="216.5" y="237.4" width="11.4" height="0.6" fill="#9a58ac"/><rect x="99.3" y="241.0" width="10.6" height="0.6" fill="#9a58ac"/><rect x="111.1" y="241.0" width="7.2" height="0.6" fill="#9a58ac"/><rect x="119.7" y="241.0" width="11.5" height="0.6" fill="#9a58ac"/><rect x="133.5" y="241.0" width="6.7" height="0.6" fill="#9a58ac"/><rect x="141.6" y="241.0" width="7.6" height="0.6" fill="#9a58ac"/><rect x="150.4" y="241.0" width="7.8" height="0.6" fill="#9a58ac"/><rect x="159.5" y="241.0" width="6.4" height="0.6" fill="#9a58ac"/><rect x="167.5" y="241.0" width="10.6" height="0.6" fill="#9a58ac"/><rect x="179.7" y="241.0" width="10.9" height="0.6" fill="#9a58ac"/><rect x="192.3" y="241.0" width="6.2" height="0.6" fill="#9a58ac"/><rect x="200.6" y="241.0" width="11.2" height="0.6" fill="#9a58ac"/><rect x="212.9" y="241.0" width="5.2" height="0.6" fill="#9a58ac"/><rect x="219.6" y="241.0" width="8.4" height="0.6" fill="#9a58ac"/><rect x="230.2" y="224.4" width="66.4" height="21.0" rx="1.8" fill="#69137a"/><rect x="231.7" y="229.4" width="11.8" height="0.6" fill="#b678c6"/><rect x="245.3" y="229.4" width="10.6" height="0.6" fill="#b678c6"/><rect x="256.7" y="229.4" width="8.8" height="0.6" fill="#b678c6"/><rect x="267.6" y="229.4" width="5.6" height="0.6" fill="#b678c6"/><rect x="273.9" y="229.4" width="10.2" height="0.6" fill="#b678c6"/><rect x="286.4" y="229.4" width="5.6" height="0.6" fill="#b678c6"/><rect x="233.2" y="231.0" width="3.7" height="0.5" fill="#8f4ca2"/><rect x="247.2" y="231.0" width="6.2" height="0.5" fill="#8f4ca2"/><rect x="257.1" y="231.0" width="4.1" height="0.5" fill="#8f4ca2"/><rect x="271.3" y="231.0" width="5.6" height="0.5" fill="#8f4ca2"/><rect x="285.4" y="231.0" width="5.0" height="0.5" fill="#8f4ca2"/><rect x="231.7" y="233.6" width="11.8" height="0.6" fill="#9a58ac"/><rect x="245.4" y="233.6" width="8.5" height="0.6" fill="#9a58ac"/><rect x="255.4" y="233.6" width="10.0" height="0.6" fill="#9a58ac"/><rect x="267.4" y="233.6" width="11.4" height="0.6" fill="#9a58ac"/><rect x="280.2" y="233.6" width="10.8" height="0.6" fill="#9a58ac"/><rect x="292.9" y="233.6" width="2.7" height="0.6" fill="#9a58ac"/><rect x="233.2" y="235.2" width="7.2" height="0.5" fill="#8f4ca2"/><rect x="248.3" y="235.2" width="7.8" height="0.5" fill="#8f4ca2"/><rect x="261.4" y="235.2" width="5.6" height="0.5" fill="#8f4ca2"/><rect x="275.1" y="235.2" width="7.0" height="0.5" fill="#8f4ca2"/><rect x="286.5" y="235.2" width="5.1" height="0.5" fill="#8f4ca2"/><rect x="231.7" y="237.4" width="10.2" height="0.6" fill="#9a58ac"/><rect x="244.4" y="237.4" width="7.6" height="0.6" fill="#9a58ac"/><rect x="252.9" y="237.4" width="6.4" height="0.6" fill="#9a58ac"/><rect x="260.8" y="237.4" width="7.0" height="0.6" fill="#9a58ac"/><rect x="270.2" y="237.4" width="5.4" height="0.6" fill="#9a58ac"/><rect x="276.8" y="237.4" width="5.8" height="0.6" fill="#9a58ac"/><rect x="284.5" y="237.4" width="10.4" height="0.6" fill="#9a58ac"/><rect x="231.7" y="241.0" width="5.4" height="0.6" fill="#9a58ac"/><rect x="238.6" y="241.0" width="9.1" height="0.6" fill="#9a58ac"/><rect x="250.0" y="241.0" width="5.3" height="0.6" fill="#9a58ac"/><rect x="256.1" y="241.0" width="6.3" height="0.6" fill="#9a58ac"/><rect x="263.4" y="241.0" width="6.6" height="0.6" fill="#9a58ac"/><rect x="272.0" y="241.0" width="9.2" height="0.6" fill="#9a58ac"/><rect x="282.2" y="241.0" width="6.3" height="0.6" fill="#9a58ac"/><rect x="289.6" y="241.0" width="6.0" height="0.6" fill="#9a58ac"/><rect x="297.8" y="224.4" width="32.6" height="21.0" rx="1.8" fill="#69137a"/><rect x="299.3" y="229.4" width="7.2" height="0.6" fill="#b678c6"/><rect x="308.1" y="229.4" width="10.7" height="0.6" fill="#b678c6"/><rect x="320.4" y="229.4" width="6.8" height="0.6" fill="#b678c6"/><rect x="300.8" y="231.0" width="7.6" height="0.5" fill="#8f4ca2"/><rect x="311.5" y="231.0" width="5.7" height="0.5" fill="#8f4ca2"/><rect x="299.3" y="233.6" width="8.4" height="0.6" fill="#9a58ac"/><rect x="308.7" y="233.6" width="5.3" height="0.6" fill="#9a58ac"/><rect x="316.4" y="233.6" width="10.6" height="0.6" fill="#9a58ac"/><rect x="300.8" y="235.2" width="5.6" height="0.5" fill="#8f4ca2"/><rect x="312.9" y="235.2" width="4.4" height="0.5" fill="#8f4ca2"/><rect x="299.3" y="237.4" width="9.6" height="0.6" fill="#9a58ac"/><rect x="310.0" y="237.4" width="5.1" height="0.6" fill="#9a58ac"/><rect x="316.5" y="237.4" width="7.6" height="0.6" fill="#9a58ac"/><rect x="326.2" y="237.4" width="3.2" height="0.6" fill="#9a58ac"/><rect x="299.3" y="241.0" width="6.1" height="0.6" fill="#9a58ac"/><rect x="306.3" y="241.0" width="7.3" height="0.6" fill="#9a58ac"/><rect x="314.6" y="241.0" width="11.1" height="0.6" fill="#9a58ac"/><rect x="327.3" y="241.0" width="2.1" height="0.6" fill="#9a58ac"/><rect x="365.4" y="224.4" width="66.4" height="21.0" rx="1.8" fill="#69137a"/><rect x="366.9" y="229.4" width="6.9" height="0.6" fill="#b678c6"/><rect x="375.4" y="229.4" width="6.1" height="0.6" fill="#b678c6"/><rect x="383.5" y="229.4" width="5.0" height="0.6" fill="#b678c6"/><rect x="390.7" y="229.4" width="10.9" height="0.6" fill="#b678c6"/><rect x="403.8" y="229.4" width="5.6" height="0.6" fill="#b678c6"/><rect x="410.4" y="229.4" width="10.0" height="0.6" fill="#b678c6"/><rect x="421.2" y="229.4" width="8.4" height="0.6" fill="#b678c6"/><rect x="368.4" y="231.0" width="7.8" height="0.5" fill="#8f4ca2"/><rect x="381.1" y="231.0" width="7.3" height="0.5" fill="#8f4ca2"/><rect x="391.5" y="231.0" width="6.9" height="0.5" fill="#8f4ca2"/><rect x="402.9" y="231.0" width="7.6" height="0.5" fill="#8f4ca2"/><rect x="411.6" y="231.0" width="7.1" height="0.5" fill="#8f4ca2"/><rect x="421.3" y="231.0" width="5.7" height="0.5" fill="#8f4ca2"/><rect x="366.9" y="233.6" width="6.1" height="0.6" fill="#9a58ac"/><rect x="375.2" y="233.6" width="7.2" height="0.6" fill="#9a58ac"/><rect x="383.6" y="233.6" width="5.5" height="0.6" fill="#9a58ac"/><rect x="390.3" y="233.6" width="8.3" height="0.6" fill="#9a58ac"/><rect x="400.5" y="233.6" width="7.5" height="0.6" fill="#9a58ac"/><rect x="409.9" y="233.6" width="5.7" height="0.6" fill="#9a58ac"/><rect x="417.0" y="233.6" width="8.2" height="0.6" fill="#9a58ac"/><rect x="427.7" y="233.6" width="3.1" height="0.6" fill="#9a58ac"/><rect x="368.4" y="235.2" width="3.1" height="0.5" fill="#8f4ca2"/><rect x="379.4" y="235.2" width="6.6" height="0.5" fill="#8f4ca2"/><rect x="389.3" y="235.2" width="5.8" height="0.5" fill="#8f4ca2"/><rect x="401.0" y="235.2" width="3.1" height="0.5" fill="#8f4ca2"/><rect x="416.9" y="235.2" width="7.0" height="0.5" fill="#8f4ca2"/><rect x="366.9" y="237.4" width="9.3" height="0.6" fill="#9a58ac"/><rect x="377.4" y="237.4" width="7.6" height="0.6" fill="#9a58ac"/><rect x="386.6" y="237.4" width="7.1" height="0.6" fill="#9a58ac"/><rect x="395.0" y="237.4" width="7.7" height="0.6" fill="#9a58ac"/><rect x="404.6" y="237.4" width="6.8" height="0.6" fill="#9a58ac"/><rect x="412.3" y="237.4" width="10.1" height="0.6" fill="#9a58ac"/><rect x="423.7" y="237.4" width="7.1" height="0.6" fill="#9a58ac"/><rect x="366.9" y="241.0" width="10.1" height="0.6" fill="#9a58ac"/><rect x="378.2" y="241.0" width="10.8" height="0.6" fill="#9a58ac"/><rect x="389.8" y="241.0" width="6.0" height="0.6" fill="#9a58ac"/><rect x="396.5" y="241.0" width="9.7" height="0.6" fill="#9a58ac"/><rect x="408.2" y="241.0" width="6.3" height="0.6" fill="#9a58ac"/><rect x="415.8" y="241.0" width="10.9" height="0.6" fill="#9a58ac"/><rect x="428.4" y="241.0" width="2.4" height="0.6" fill="#9a58ac"/><rect x="433.0" y="224.4" width="14.4" height="21.0" rx="1.8" fill="#69137a"/><rect x="434.5" y="229.4" width="6.1" height="0.6" fill="#b678c6"/><rect x="436.0" y="231.0" width="5.0" height="0.5" fill="#8f4ca2"/><rect x="434.5" y="233.6" width="8.5" height="0.6" fill="#9a58ac"/><rect x="436.0" y="235.2" width="5.6" height="0.5" fill="#8f4ca2"/><rect x="434.5" y="237.4" width="8.5" height="0.6" fill="#9a58ac"/><rect x="434.5" y="241.0" width="7.7" height="0.6" fill="#9a58ac"/><rect x="365.4" y="246.7" width="82.0" height="21.0" rx="1.8" fill="#e8304f"/><rect x="366.9" y="257.0" width="75.6" height="0.4" fill="#f7a3b1" opacity="0.75"/><path d="M369.4 256.4 L368.2 257.2 L369.4 258.0Z" fill="#f7a3b1"/><path d="M369.8 255.3 L371.2 257.2 L369.8 259.1Z" fill="#f7a3b1"/><path d="M372.4 256.4 L371.2 257.2 L372.4 258.0Z" fill="#f7a3b1"/><path d="M372.8 256.1 L374.2 257.2 L372.8 258.3Z" fill="#f7a3b1"/><path d="M375.4 256.4 L374.2 257.2 L375.4 258.0Z" fill="#f7a3b1"/><path d="M375.8 256.1 L377.2 257.2 L375.8 258.3Z" fill="#f7a3b1"/><path d="M378.4 256.4 L377.2 257.2 L378.4 258.0Z" fill="#f7a3b1"/><path d="M378.8 255.3 L380.2 257.2 L378.8 259.1Z" fill="#f7a3b1"/><path d="M381.4 256.4 L380.2 257.2 L381.4 258.0Z" fill="#f7a3b1"/><path d="M381.8 256.1 L383.2 257.2 L381.8 258.3Z" fill="#f7a3b1"/><path d="M384.4 256.4 L383.2 257.2 L384.4 258.0Z" fill="#f7a3b1"/><path d="M384.8 256.1 L386.2 257.2 L384.8 258.3Z" fill="#f7a3b1"/><path d="M387.4 256.4 L386.2 257.2 L387.4 258.0Z" fill="#f7a3b1"/><path d="M387.8 255.3 L389.2 257.2 L387.8 259.1Z" fill="#f7a3b1"/><path d="M390.4 256.4 L389.2 257.2 L390.4 258.0Z" fill="#f7a3b1"/><path d="M390.8 256.1 L392.2 257.2 L390.8 258.3Z" fill="#f7a3b1"/><path d="M393.4 256.4 L392.2 257.2 L393.4 258.0Z" fill="#f7a3b1"/><path d="M393.8 256.1 L395.2 257.2 L393.8 258.3Z" fill="#f7a3b1"/><path d="M396.4 256.4 L395.2 257.2 L396.4 258.0Z" fill="#f7a3b1"/><path d="M400.6 256.1 L402.0 257.2 L400.6 258.3Z" fill="#f7a3b1"/><path d="M403.2 256.4 L402.0 257.2 L403.2 258.0Z" fill="#f7a3b1"/><path d="M403.6 255.3 L405.0 257.2 L403.6 259.1Z" fill="#f7a3b1"/><path d="M406.2 256.4 L405.0 257.2 L406.2 258.0Z" fill="#f7a3b1"/><path d="M406.6 256.1 L408.0 257.2 L406.6 258.3Z" fill="#f7a3b1"/><path d="M409.2 256.4 L408.0 257.2 L409.2 258.0Z" fill="#f7a3b1"/><path d="M409.6 256.1 L411.0 257.2 L409.6 258.3Z" fill="#f7a3b1"/><path d="M412.2 256.4 L411.0 257.2 L412.2 258.0Z" fill="#f7a3b1"/><path d="M412.6 255.3 L414.0 257.2 L412.6 259.1Z" fill="#f7a3b1"/><path d="M415.2 256.4 L414.0 257.2 L415.2 258.0Z" fill="#f7a3b1"/><path d="M415.6 256.1 L417.0 257.2 L415.6 258.3Z" fill="#f7a3b1"/><path d="M418.2 256.4 L417.0 257.2 L418.2 258.0Z" fill="#f7a3b1"/><path d="M418.6 256.1 L420.0 257.2 L418.6 258.3Z" fill="#f7a3b1"/><path d="M421.2 256.4 L420.0 257.2 L421.2 258.0Z" fill="#f7a3b1"/><path d="M421.6 255.3 L423.0 257.2 L421.6 259.1Z" fill="#f7a3b1"/><path d="M424.2 256.4 L423.0 257.2 L424.2 258.0Z" fill="#f7a3b1"/><path d="M424.6 256.1 L426.0 257.2 L424.6 258.3Z" fill="#f7a3b1"/><path d="M427.2 256.4 L426.0 257.2 L427.2 258.0Z" fill="#f7a3b1"/><path d="M427.6 256.1 L429.0 257.2 L427.6 258.3Z" fill="#f7a3b1"/><path d="M430.2 256.4 L429.0 257.2 L430.2 258.0Z" fill="#f7a3b1"/><path d="M434.4 256.1 L435.8 257.2 L434.4 258.3Z" fill="#f7a3b1"/><path d="M437.0 256.4 L435.8 257.2 L437.0 258.0Z" fill="#f7a3b1"/><path d="M437.4 255.3 L438.8 257.2 L437.4 259.1Z" fill="#f7a3b1"/><path d="M440.0 256.4 L438.8 257.2 L440.0 258.0Z" fill="#f7a3b1"/><path d="M440.4 256.1 L441.8 257.2 L440.4 258.3Z" fill="#f7a3b1"/><rect x="432.1" y="246.7" width="0.6" height="21.0" fill="#ee5f78"/><path d="M431.2 246.7 h2.4 l-1.2 1.2Z M431.2 267.7 h2.4 l-1.2 -1.2Z" fill="#f7f7f8"/><rect x="365.4" y="268.9" width="32.6" height="21.0" rx="1.8" fill="#e8304f"/><rect x="366.9" y="279.2" width="29.6" height="0.4" fill="#f7a3b1" opacity="0.75"/><path d="M367.8 278.3 L369.2 279.4 L367.8 280.5Z" fill="#f7a3b1"/><path d="M370.6 278.5 L369.2 279.4 L370.6 280.3Z" fill="#f7a3b1"/><path d="M370.8 277.6 L372.2 279.4 L370.8 281.2Z" fill="#f7a3b1"/><path d="M373.6 278.0 L372.2 279.4 L373.6 280.9Z" fill="#f7a3b1"/><path d="M373.8 276.9 L375.2 279.4 L373.8 281.9Z" fill="#f7a3b1"/><path d="M376.6 277.4 L375.2 279.4 L376.6 281.4Z" fill="#f7a3b1"/><path d="M376.8 277.7 L378.2 279.4 L376.8 281.1Z" fill="#f7a3b1"/><path d="M379.6 278.1 L378.2 279.4 L379.6 280.8Z" fill="#f7a3b1"/><path d="M379.8 278.2 L381.2 279.4 L379.8 280.6Z" fill="#f7a3b1"/><path d="M382.6 278.5 L381.2 279.4 L382.6 280.4Z" fill="#f7a3b1"/><path d="M382.8 278.6 L384.2 279.4 L382.8 280.2Z" fill="#f7a3b1"/><path d="M385.6 278.8 L384.2 279.4 L385.6 280.1Z" fill="#f7a3b1"/><path d="M386.8 277.9 L388.2 279.4 L386.8 280.9Z" fill="#f7a3b1"/><path d="M389.6 278.2 L388.2 279.4 L389.6 280.6Z" fill="#f7a3b1"/><path d="M389.8 278.4 L391.2 279.4 L389.8 280.4Z" fill="#f7a3b1"/><path d="M392.6 278.6 L391.2 279.4 L392.6 280.2Z" fill="#f7a3b1"/><rect x="399.2" y="268.9" width="32.6" height="21.0" rx="1.8" fill="#e8304f"/><rect x="400.7" y="279.2" width="29.6" height="0.4" fill="#f7a3b1" opacity="0.75"/><path d="M401.6 278.3 L403.0 279.4 L401.6 280.5Z" fill="#f7a3b1"/><path d="M404.4 278.5 L403.0 279.4 L404.4 280.3Z" fill="#f7a3b1"/><path d="M404.6 277.6 L406.0 279.4 L404.6 281.2Z" fill="#f7a3b1"/><path d="M407.4 278.0 L406.0 279.4 L407.4 280.9Z" fill="#f7a3b1"/><path d="M407.6 276.9 L409.0 279.4 L407.6 281.9Z" fill="#f7a3b1"/><path d="M410.4 277.4 L409.0 279.4 L410.4 281.4Z" fill="#f7a3b1"/><path d="M410.6 277.7 L412.0 279.4 L410.6 281.1Z" fill="#f7a3b1"/><path d="M413.4 278.1 L412.0 279.4 L413.4 280.8Z" fill="#f7a3b1"/><path d="M413.6 278.2 L415.0 279.4 L413.6 280.6Z" fill="#f7a3b1"/><path d="M416.4 278.5 L415.0 279.4 L416.4 280.4Z" fill="#f7a3b1"/><path d="M416.6 278.6 L418.0 279.4 L416.6 280.2Z" fill="#f7a3b1"/><path d="M419.4 278.8 L418.0 279.4 L419.4 280.1Z" fill="#f7a3b1"/><path d="M420.6 277.9 L422.0 279.4 L420.6 280.9Z" fill="#f7a3b1"/><path d="M423.4 278.2 L422.0 279.4 L423.4 280.6Z" fill="#f7a3b1"/><path d="M423.6 278.4 L425.0 279.4 L423.6 280.4Z" fill="#f7a3b1"/><path d="M426.4 278.6 L425.0 279.4 L426.4 280.2Z" fill="#f7a3b1"/><rect x="433.0" y="268.9" width="14.4" height="21.0" rx="1.8" fill="#e8304f"/><rect x="434.5" y="279.2" width="8.0" height="0.4" fill="#f7a3b1" opacity="0.75"/><path d="M435.4 278.3 L436.8 279.4 L435.4 280.5Z" fill="#f7a3b1"/><path d="M438.2 278.5 L436.8 279.4 L438.2 280.3Z" fill="#f7a3b1"/><path d="M438.4 277.6 L439.8 279.4 L438.4 281.2Z" fill="#f7a3b1"/><path d="M441.2 278.0 L439.8 279.4 L441.2 280.9Z" fill="#f7a3b1"/><rect x="230.2" y="313.4" width="66.4" height="21.0" rx="1.8" fill="#e8304f"/><rect x="231.7" y="323.7" width="63.4" height="0.4" fill="#f7a3b1" opacity="0.75"/><path d="M234.2 322.2 L236.6 323.9 L234.2 325.6Z" fill="#f7a3b1"/><path d="M238.6 322.2 L241.2 323.9 L238.6 325.6Z" fill="#f7a3b1"/><path d="M241.4 322.0 L244.0 323.9 L241.4 325.8Z" fill="#f7a3b1"/><path d="M249.6 321.8 L246.6 323.9 L249.6 326.0Z" fill="#f7a3b1"/><path d="M249.6 322.6 L252.6 323.9 L249.6 325.2Z" fill="#f7a3b1"/><path d="M265.4 322.4 L267.8 323.9 L265.4 325.4Z" fill="#f7a3b1"/><path d="M268.0 322.2 L270.4 323.9 L268.0 325.6Z" fill="#f7a3b1"/><path d="M272.4 322.2 L275.0 323.9 L272.4 325.6Z" fill="#f7a3b1"/><path d="M275.2 322.0 L277.8 323.9 L275.2 325.8Z" fill="#f7a3b1"/><path d="M283.4 321.8 L280.4 323.9 L283.4 326.0Z" fill="#f7a3b1"/><path d="M283.4 322.6 L286.4 323.9 L283.4 325.2Z" fill="#f7a3b1"/><rect x="297.8" y="313.4" width="66.4" height="21.0" rx="1.8" fill="#e8304f"/><rect x="299.3" y="323.7" width="63.4" height="0.4" fill="#f7a3b1" opacity="0.75"/><path d="M301.8 322.2 L304.2 323.9 L301.8 325.6Z" fill="#f7a3b1"/><path d="M306.2 322.2 L308.8 323.9 L306.2 325.6Z" fill="#f7a3b1"/><path d="M309.0 322.0 L311.6 323.9 L309.0 325.8Z" fill="#f7a3b1"/><path d="M317.2 321.8 L314.2 323.9 L317.2 326.0Z" fill="#f7a3b1"/><path d="M317.2 322.6 L320.2 323.9 L317.2 325.2Z" fill="#f7a3b1"/><path d="M333.0 322.4 L335.4 323.9 L333.0 325.4Z" fill="#f7a3b1"/><path d="M335.6 322.2 L338.0 323.9 L335.6 325.6Z" fill="#f7a3b1"/><path d="M340.0 322.2 L342.6 323.9 L340.0 325.6Z" fill="#f7a3b1"/><path d="M342.8 322.0 L345.4 323.9 L342.8 325.8Z" fill="#f7a3b1"/><path d="M351.0 321.8 L348.0 323.9 L351.0 326.0Z" fill="#f7a3b1"/><path d="M351.0 322.6 L354.0 323.9 L351.0 325.2Z" fill="#f7a3b1"/><rect x="365.4" y="313.4" width="82.0" height="21.0" rx="1.8" fill="#e8304f"/><rect x="366.9" y="323.7" width="75.6" height="0.4" fill="#f7a3b1" opacity="0.75"/><path d="M369.4 322.2 L371.8 323.9 L369.4 325.6Z" fill="#f7a3b1"/><path d="M373.8 322.2 L376.4 323.9 L373.8 325.6Z" fill="#f7a3b1"/><path d="M376.6 322.0 L379.2 323.9 L376.6 325.8Z" fill="#f7a3b1"/><path d="M384.8 321.8 L381.8 323.9 L384.8 326.0Z" fill="#f7a3b1"/><path d="M384.8 322.6 L387.8 323.9 L384.8 325.2Z" fill="#f7a3b1"/><path d="M400.6 322.4 L403.0 323.9 L400.6 325.4Z" fill="#f7a3b1"/><path d="M403.2 322.2 L405.6 323.9 L403.2 325.6Z" fill="#f7a3b1"/><path d="M407.6 322.2 L410.2 323.9 L407.6 325.6Z" fill="#f7a3b1"/><path d="M410.4 322.0 L413.0 323.9 L410.4 325.8Z" fill="#f7a3b1"/><path d="M418.6 321.8 L415.6 323.9 L418.6 326.0Z" fill="#f7a3b1"/><path d="M418.6 322.6 L421.6 323.9 L418.6 325.2Z" fill="#f7a3b1"/><path d="M434.4 322.4 L436.8 323.9 L434.4 325.4Z" fill="#f7a3b1"/><path d="M437.0 322.2 L439.4 323.9 L437.0 325.6Z" fill="#f7a3b1"/><rect x="263.1" y="313.4" width="0.6" height="21.0" fill="#ee5f78"/><path d="M262.2 313.4 h2.4 l-1.2 1.2Z M262.2 334.4 h2.4 l-1.2 -1.2Z" fill="#f7f7f8"/><rect x="330.7" y="313.4" width="0.6" height="21.0" fill="#ee5f78"/><path d="M329.8 313.4 h2.4 l-1.2 1.2Z M329.8 334.4 h2.4 l-1.2 -1.2Z" fill="#f7f7f8"/><rect x="398.3" y="313.4" width="0.6" height="21.0" fill="#ee5f78"/><path d="M397.4 313.4 h2.4 l-1.2 1.2Z M397.4 334.4 h2.4 l-1.2 -1.2Z" fill="#f7f7f8"/><rect x="432.1" y="313.4" width="0.6" height="21.0" fill="#ee5f78"/><path d="M431.2 313.4 h2.4 l-1.2 1.2Z M431.2 334.4 h2.4 l-1.2 -1.2Z" fill="#f7f7f8"/></g>
<rect x="256.2" y="40" width="0.8" height="295.0" fill="#9a78d6"/>
<path d="M253.3 30.4 H259.8 V36.6 L256.55 39.8 L253.3 36.6 Z" fill="#4b1db6"/></svg>
<div class="t" style="left:37.3px;top:50.32px;font-size:4.4px;color:#26262e;">Two</div>
<div class="t" style="left:37.3px;top:72.55px;font-size:4.4px;color:#26262e;">Kick</div>
<div class="t" style="left:37.3px;top:94.78px;font-size:4.4px;color:#26262e;">Rev Claps</div>
<div class="t" style="left:37.3px;top:117.01px;font-size:4.4px;color:#26262e;">Strings</div>
<div class="t" style="left:37.3px;top:139.24px;font-size:4.4px;color:#26262e;">Clean Sub</div>
<div class="t" style="left:37.3px;top:161.47px;font-size:4.4px;color:#26262e;">Cali Bass</div>
<div class="t" style="left:37.3px;top:183.70px;font-size:4.4px;color:#26262e;">Sco Modern</div>
<div class="t" style="left:37.3px;top:205.93px;font-size:4.4px;color:#26262e;">Sub Glide</div>
<div class="t" style="left:37.3px;top:228.16px;font-size:4.4px;color:#26262e;">Panizer</div>
<div class="t" style="left:37.3px;top:250.44px;font-size:4.25px;color:#26262e;">Tambourine - Basic 9 2</div>
<div class="t" style="left:37.3px;top:272.67px;font-size:4.25px;color:#26262e;">Two - Guitar Pattern 2 [...</div>
<div class="t" style="left:37.3px;top:294.90px;font-size:4.25px;color:#26262e;">Two - Guitar Pattern 2 [...</div>
<div class="t" style="left:37.3px;top:317.08px;font-size:4.4px;color:#26262e;">Sco Modern</div>
<svg class="abs" style="left:0;top:0" width="600" height="402" viewBox="0 0 600 402" font-family="Liberation Sans"><circle cx="27" cy="56.5" r="5.5" fill="#fff"/><g transform="translate(27 56.5)"><path d="M-2.2 -0.9 H2.2 V1.7 Q0 3.2 -2.2 1.7Z" fill="#c9c9cf" stroke="#33333b" stroke-width="0.75"/><path d="M-2.2 0.3 Q0 1.6 2.2 0.3 M-0.4 -1.2 L-2.4 -2.9 M0.4 -1.2 L2.4 -2.9" fill="none" stroke="#33333b" stroke-width="0.7"/></g><rect x="37.3" y="57.3" width="4.6" height="4.6" rx="0.8" fill="#e3e3e7"/><path d="M38.9 60.7 V58.5 H40 Q40.7 58.5 40.7 59.1 Q40.7 59.6 40 59.6 H38.9 M40 59.6 L40.7 60.7" fill="none" stroke="#8b8b93" stroke-width="0.45"/><circle cx="51" cy="59.0" r="3.9" fill="#fff" stroke="#dcdce1" stroke-width="0.5"/><path d="M51.08 59.80 L50.80 56.61" stroke="#23266f" stroke-width="0.95" stroke-linecap="round"/><text x="54.2" y="64.6" font-size="2.4" fill="#8a8a92">Vol</text><path d="M61.2 61.2 V59.6 A2 2.2 0 0 1 65.2 59.6 V61.2" fill="none" stroke="#55555f" stroke-width="0.5"/><path d="M61.2 60.0 v1.3 M65.2 60.0 v1.3" stroke="#55555f" stroke-width="0.85"/><path d="M73.6 58.9 h1.2 l1.5 -1.3 v4 l-1.5 -1.3 h-1.2Z M77.3 58.8 q0.7 0.8 0 1.6" fill="none" stroke="#8a8a93" stroke-width="0.5"/><path d="M85.2 58.0 q1.5 -0.6 1.2 0.8 q-0.3 1 -1.4 1.8 h1.8 M88.6 58.6 q-1.4 0.3 -0.6 1.2 q-1.2 0.6 0.2 1.6" fill="none" stroke="#3a3a44" stroke-width="0.7" stroke-linecap="round"/><circle cx="27" cy="78.7" r="5.5" fill="#fff"/><g transform="translate(27 78.7)"><path d="M-2.2 -0.9 H2.2 V1.7 Q0 3.2 -2.2 1.7Z" fill="#c9c9cf" stroke="#33333b" stroke-width="0.75"/><path d="M-2.2 0.3 Q0 1.6 2.2 0.3 M-0.4 -1.2 L-2.4 -2.9 M0.4 -1.2 L2.4 -2.9" fill="none" stroke="#33333b" stroke-width="0.7"/></g><rect x="37.3" y="79.5" width="4.6" height="4.6" rx="0.8" fill="#e3e3e7"/><path d="M38.9 82.9 V80.7 H40 Q40.7 80.7 40.7 81.3 Q40.7 81.8 40 81.8 H38.9 M40 81.8 L40.7 82.9" fill="none" stroke="#8b8b93" stroke-width="0.45"/><circle cx="51" cy="81.2" r="3.9" fill="#fff" stroke="#dcdce1" stroke-width="0.5"/><path d="M51.00 82.03 L51.00 78.83" stroke="#23266f" stroke-width="0.95" stroke-linecap="round"/><text x="54.2" y="86.8" font-size="2.4" fill="#8a8a92">Vol</text><path d="M61.2 83.4 V81.8 A2 2.2 0 0 1 65.2 81.8 V83.4" fill="none" stroke="#55555f" stroke-width="0.5"/><path d="M61.2 82.2 v1.3 M65.2 82.2 v1.3" stroke="#55555f" stroke-width="0.85"/><path d="M73.6 81.1 h1.2 l1.5 -1.3 v4 l-1.5 -1.3 h-1.2Z M77.3 81.0 q0.7 0.8 0 1.6" fill="none" stroke="#8a8a93" stroke-width="0.5"/><path d="M85.2 80.2 q1.5 -0.6 1.2 0.8 q-0.3 1 -1.4 1.8 h1.8 M88.6 80.8 q-1.4 0.3 -0.6 1.2 q-1.2 0.6 0.2 1.6" fill="none" stroke="#3a3a44" stroke-width="0.7" stroke-linecap="round"/><circle cx="27" cy="101.0" r="5.5" fill="#fff"/><g transform="translate(27 101.0)"><path d="M-2.6 -0.5 V0.5 M-1.5 -1.1 V1.1 M0.4 0 m-1 0 a1 1.7 0 1 0 2 0 a1 1.7 0 1 0 -2 0 M2.5 -1 V1" fill="none" stroke="#33333b" stroke-width="0.55"/></g><rect x="37.3" y="101.8" width="4.6" height="4.6" rx="0.8" fill="#e3e3e7"/><path d="M38.9 105.2 V103.0 H40 Q40.7 103.0 40.7 103.6 Q40.7 104.1 40 104.1 H38.9 M40 104.1 L40.7 105.2" fill="none" stroke="#8b8b93" stroke-width="0.45"/><circle cx="51" cy="103.5" r="3.9" fill="#fff" stroke="#dcdce1" stroke-width="0.5"/><path d="M51.58 104.05 L49.52 101.60" stroke="#23266f" stroke-width="0.95" stroke-linecap="round"/><text x="54.2" y="109.1" font-size="2.4" fill="#8a8a92">Vol</text><path d="M61.2 105.7 V104.1 A2 2.2 0 0 1 65.2 104.1 V105.7" fill="none" stroke="#55555f" stroke-width="0.5"/><path d="M61.2 104.5 v1.3 M65.2 104.5 v1.3" stroke="#55555f" stroke-width="0.85"/><path d="M73.6 103.4 h1.2 l1.5 -1.3 v4 l-1.5 -1.3 h-1.2Z M77.3 103.3 q0.7 0.8 0 1.6" fill="none" stroke="#8a8a93" stroke-width="0.5"/><path d="M85.2 102.5 q1.5 -0.6 1.2 0.8 q-0.3 1 -1.4 1.8 h1.8 M88.6 103.1 q-1.4 0.3 -0.6 1.2 q-1.2 0.6 0.2 1.6" fill="none" stroke="#3a3a44" stroke-width="0.7" stroke-linecap="round"/><circle cx="27" cy="123.2" r="5.5" fill="#fff"/><g transform="translate(27 123.2)"><path d="M-2.6 -0.5 V0.5 M-1.5 -1.1 V1.1 M0.4 0 m-1 0 a1 1.7 0 1 0 2 0 a1 1.7 0 1 0 -2 0 M2.5 -1 V1" fill="none" stroke="#33333b" stroke-width="0.55"/></g><rect x="37.3" y="124.0" width="4.6" height="4.6" rx="0.8" fill="#e3e3e7"/><path d="M38.9 127.4 V125.2 H40 Q40.7 125.2 40.7 125.8 Q40.7 126.3 40 126.3 H38.9 M40 126.3 L40.7 127.4" fill="none" stroke="#8b8b93" stroke-width="0.45"/><circle cx="51" cy="125.7" r="3.9" fill="#fff" stroke="#dcdce1" stroke-width="0.5"/><path d="M50.26 126.11 L52.88 124.27" stroke="#23266f" stroke-width="0.95" stroke-linecap="round"/><text x="54.2" y="131.3" font-size="2.4" fill="#8a8a92">Vol</text><path d="M61.2 127.9 V126.3 A2 2.2 0 0 1 65.2 126.3 V127.9" fill="none" stroke="#55555f" stroke-width="0.5"/><path d="M61.2 126.7 v1.3 M65.2 126.7 v1.3" stroke="#55555f" stroke-width="0.85"/><path d="M73.6 125.6 h1.2 l1.5 -1.3 v4 l-1.5 -1.3 h-1.2Z M77.3 125.5 q0.7 0.8 0 1.6" fill="none" stroke="#8a8a93" stroke-width="0.5"/><path d="M85.2 124.7 q1.5 -0.6 1.2 0.8 q-0.3 1 -1.4 1.8 h1.8 M88.6 125.3 q-1.4 0.3 -0.6 1.2 q-1.2 0.6 0.2 1.6" fill="none" stroke="#3a3a44" stroke-width="0.7" stroke-linecap="round"/><circle cx="27" cy="145.4" r="5.5" fill="#fff"/><g transform="translate(27 145.4)"><ellipse cx="-0.8" cy="0.9" rx="1.9" ry="1.5" transform="rotate(-40 -0.8 0.9)" fill="none" stroke="#33333b" stroke-width="0.7"/><path d="M0.4 -0.5 L2.3 -2.5 M1.6 -2.9 l1.2 1.2" fill="none" stroke="#33333b" stroke-width="0.8" stroke-linecap="round"/></g><rect x="37.3" y="146.2" width="4.6" height="4.6" rx="0.8" fill="#e3e3e7"/><path d="M38.9 149.6 V147.4 H40 Q40.7 147.4 40.7 148.0 Q40.7 148.5 40 148.5 H38.9 M40 148.5 L40.7 149.6" fill="none" stroke="#8b8b93" stroke-width="0.45"/><circle cx="51" cy="147.9" r="3.9" fill="#fff" stroke="#dcdce1" stroke-width="0.5"/><path d="M50.26 148.34 L52.88 146.50" stroke="#23266f" stroke-width="0.95" stroke-linecap="round"/><text x="54.2" y="153.5" font-size="2.4" fill="#8a8a92">Vol</text><path d="M61.2 150.1 V148.5 A2 2.2 0 0 1 65.2 148.5 V150.1" fill="none" stroke="#55555f" stroke-width="0.5"/><path d="M61.2 148.9 v1.3 M65.2 148.9 v1.3" stroke="#55555f" stroke-width="0.85"/><path d="M73.6 147.8 h1.2 l1.5 -1.3 v4 l-1.5 -1.3 h-1.2Z M77.3 147.7 q0.7 0.8 0 1.6" fill="none" stroke="#8a8a93" stroke-width="0.5"/><path d="M85.2 146.9 q1.5 -0.6 1.2 0.8 q-0.3 1 -1.4 1.8 h1.8 M88.6 147.5 q-1.4 0.3 -0.6 1.2 q-1.2 0.6 0.2 1.6" fill="none" stroke="#3a3a44" stroke-width="0.7" stroke-linecap="round"/><circle cx="27" cy="167.7" r="5.5" fill="#fff"/><g transform="translate(27 167.7)"><ellipse cx="-0.8" cy="0.9" rx="1.9" ry="1.5" transform="rotate(-40 -0.8 0.9)" fill="none" stroke="#33333b" stroke-width="0.7"/><path d="M0.4 -0.5 L2.3 -2.5 M1.6 -2.9 l1.2 1.2" fill="none" stroke="#33333b" stroke-width="0.8" stroke-linecap="round"/></g><rect x="37.3" y="168.4" width="4.6" height="4.6" rx="0.8" fill="#e3e3e7"/><path d="M38.9 171.8 V169.7 H40 Q40.7 169.7 40.7 170.2 Q40.7 170.8 40 170.8 H38.9 M40 170.8 L40.7 171.8" fill="none" stroke="#8b8b93" stroke-width="0.45"/><circle cx="51" cy="170.2" r="3.9" fill="#fff" stroke="#dcdce1" stroke-width="0.5"/><path d="M50.48 170.79 L52.32 168.17" stroke="#23266f" stroke-width="0.95" stroke-linecap="round"/><text x="54.2" y="175.8" font-size="2.4" fill="#8a8a92">Vol</text><path d="M61.2 172.3 V170.8 A2 2.2 0 0 1 65.2 170.8 V172.3" fill="none" stroke="#55555f" stroke-width="0.5"/><path d="M61.2 171.2 v1.3 M65.2 171.2 v1.3" stroke="#55555f" stroke-width="0.85"/><path d="M73.6 170.1 h1.2 l1.5 -1.3 v4 l-1.5 -1.3 h-1.2Z M77.3 169.9 q0.7 0.8 0 1.6" fill="none" stroke="#8a8a93" stroke-width="0.5"/><path d="M85.2 169.2 q1.5 -0.6 1.2 0.8 q-0.3 1 -1.4 1.8 h1.8 M88.6 169.8 q-1.4 0.3 -0.6 1.2 q-1.2 0.6 0.2 1.6" fill="none" stroke="#3a3a44" stroke-width="0.7" stroke-linecap="round"/><circle cx="27" cy="189.9" r="5.5" fill="#fff"/><g transform="translate(27 189.9)"><rect x="-2.3" y="-2.6" width="4.6" height="5.2" rx="0.7" fill="none" stroke="#33333b" stroke-width="0.7"/><path d="M-2.3 -0.6 H2.3 M0 0.9 V2.6 M-1.2 -1.7 h0.6 M0.6 -1.7 h0.6" fill="none" stroke="#33333b" stroke-width="0.6"/></g><rect x="37.3" y="190.7" width="4.6" height="4.6" rx="0.8" fill="#e3e3e7"/><path d="M38.9 194.1 V191.9 H40 Q40.7 191.9 40.7 192.5 Q40.7 193.0 40 193.0 H38.9 M40 193.0 L40.7 194.1" fill="none" stroke="#8b8b93" stroke-width="0.45"/><circle cx="51" cy="192.4" r="3.9" fill="#fff" stroke="#dcdce1" stroke-width="0.5"/><path d="M51.58 192.97 L49.52 190.52" stroke="#23266f" stroke-width="0.95" stroke-linecap="round"/><text x="54.2" y="198.0" font-size="2.4" fill="#8a8a92">Vol</text><path d="M61.2 194.6 V193.0 A2 2.2 0 0 1 65.2 193.0 V194.6" fill="none" stroke="#55555f" stroke-width="0.5"/><path d="M61.2 193.4 v1.3 M65.2 193.4 v1.3" stroke="#55555f" stroke-width="0.85"/><path d="M73.6 192.3 h1.2 l1.5 -1.3 v4 l-1.5 -1.3 h-1.2Z M77.3 192.2 q0.7 0.8 0 1.6" fill="none" stroke="#8a8a93" stroke-width="0.5"/><path d="M85.2 191.4 q1.5 -0.6 1.2 0.8 q-0.3 1 -1.4 1.8 h1.8 M88.6 192.0 q-1.4 0.3 -0.6 1.2 q-1.2 0.6 0.2 1.6" fill="none" stroke="#3a3a44" stroke-width="0.7" stroke-linecap="round"/><circle cx="27" cy="212.1" r="5.5" fill="#fff"/><g transform="translate(27 212.1)"><ellipse cx="-0.8" cy="0.9" rx="1.9" ry="1.5" transform="rotate(-40 -0.8 0.9)" fill="none" stroke="#33333b" stroke-width="0.7"/><path d="M0.4 -0.5 L2.3 -2.5 M1.6 -2.9 l1.2 1.2" fill="none" stroke="#33333b" stroke-width="0.8" stroke-linecap="round"/></g><rect x="37.3" y="212.9" width="4.6" height="4.6" rx="0.8" fill="#e3e3e7"/><path d="M38.9 216.3 V214.1 H40 Q40.7 214.1 40.7 214.7 Q40.7 215.2 40 215.2 H38.9 M40 215.2 L40.7 216.3" fill="none" stroke="#8b8b93" stroke-width="0.45"/><circle cx="51" cy="214.6" r="3.9" fill="#fff" stroke="#dcdce1" stroke-width="0.5"/><path d="M51.45 215.29 L49.85 212.52" stroke="#23266f" stroke-width="0.95" stroke-linecap="round"/><text x="54.2" y="220.2" font-size="2.4" fill="#8a8a92">Vol</text><path d="M61.2 216.8 V215.2 A2 2.2 0 0 1 65.2 215.2 V216.8" fill="none" stroke="#55555f" stroke-width="0.5"/><path d="M61.2 215.6 v1.3 M65.2 215.6 v1.3" stroke="#55555f" stroke-width="0.85"/><path d="M73.6 214.5 h1.2 l1.5 -1.3 v4 l-1.5 -1.3 h-1.2Z M77.3 214.4 q0.7 0.8 0 1.6" fill="none" stroke="#8a8a93" stroke-width="0.5"/><path d="M85.2 213.6 q1.5 -0.6 1.2 0.8 q-0.3 1 -1.4 1.8 h1.8 M88.6 214.2 q-1.4 0.3 -0.6 1.2 q-1.2 0.6 0.2 1.6" fill="none" stroke="#3a3a44" stroke-width="0.7" stroke-linecap="round"/><circle cx="27" cy="234.3" r="5.5" fill="#fff"/><g transform="translate(27 234.3)"><rect x="-2.8" y="-2.1" width="5.6" height="4.2" rx="0.6" fill="none" stroke="#33333b" stroke-width="0.7"/><path d="M-2.8 -0.7 H2.8 M-0.9 -0.7 V2.1 M0.9 -0.7 V2.1" fill="none" stroke="#33333b" stroke-width="0.6"/></g><rect x="37.3" y="235.1" width="4.6" height="4.6" rx="0.8" fill="#e3e3e7"/><path d="M38.9 238.5 V236.3 H40 Q40.7 236.3 40.7 236.9 Q40.7 237.4 40 237.4 H38.9 M40 237.4 L40.7 238.5" fill="none" stroke="#8b8b93" stroke-width="0.45"/><circle cx="51" cy="236.8" r="3.9" fill="#fff" stroke="#dcdce1" stroke-width="0.5"/><path d="M51.58 237.43 L49.52 234.98" stroke="#23266f" stroke-width="0.95" stroke-linecap="round"/><text x="54.2" y="242.4" font-size="2.4" fill="#8a8a92">Vol</text><path d="M61.2 239.0 V237.4 A2 2.2 0 0 1 65.2 237.4 V239.0" fill="none" stroke="#55555f" stroke-width="0.5"/><path d="M61.2 237.8 v1.3 M65.2 237.8 v1.3" stroke="#55555f" stroke-width="0.85"/><path d="M73.6 236.7 h1.2 l1.5 -1.3 v4 l-1.5 -1.3 h-1.2Z M77.3 236.6 q0.7 0.8 0 1.6" fill="none" stroke="#8a8a93" stroke-width="0.5"/><path d="M85.2 235.8 q1.5 -0.6 1.2 0.8 q-0.3 1 -1.4 1.8 h1.8 M88.6 236.4 q-1.4 0.3 -0.6 1.2 q-1.2 0.6 0.2 1.6" fill="none" stroke="#3a3a44" stroke-width="0.7" stroke-linecap="round"/><circle cx="27" cy="256.6" r="5.5" fill="#fff"/><g transform="translate(27 256.6)"><path d="M-2.6 -0.5 V0.5 M-1.5 -1.1 V1.1 M0.4 0 m-1 0 a1 1.7 0 1 0 2 0 a1 1.7 0 1 0 -2 0 M2.5 -1 V1" fill="none" stroke="#33333b" stroke-width="0.55"/></g><rect x="37.3" y="257.4" width="4.6" height="4.6" rx="0.8" fill="#e3e3e7"/><path d="M38.9 260.8 V258.6 H40 Q40.7 258.6 40.7 259.2 Q40.7 259.7 40 259.7 H38.9 M40 259.7 L40.7 260.8" fill="none" stroke="#8b8b93" stroke-width="0.45"/><circle cx="51" cy="259.1" r="3.9" fill="#fff" stroke="#dcdce1" stroke-width="0.5"/><path d="M51.58 259.66 L49.52 257.21" stroke="#23266f" stroke-width="0.95" stroke-linecap="round"/><text x="54.2" y="264.7" font-size="2.4" fill="#8a8a92">Vol</text><path d="M61.2 261.3 V259.7 A2 2.2 0 0 1 65.2 259.7 V261.3" fill="none" stroke="#55555f" stroke-width="0.5"/><path d="M61.2 260.1 v1.3 M65.2 260.1 v1.3" stroke="#55555f" stroke-width="0.85"/><path d="M73.6 259.0 h1.2 l1.5 -1.3 v4 l-1.5 -1.3 h-1.2Z M77.3 258.9 q0.7 0.8 0 1.6" fill="none" stroke="#8a8a93" stroke-width="0.5"/><path d="M85.2 258.1 q1.5 -0.6 1.2 0.8 q-0.3 1 -1.4 1.8 h1.8 M88.6 258.7 q-1.4 0.3 -0.6 1.2 q-1.2 0.6 0.2 1.6" fill="none" stroke="#3a3a44" stroke-width="0.7" stroke-linecap="round"/><circle cx="27" cy="278.8" r="5.5" fill="#fff"/><g transform="translate(27 278.8)"><path d="M-2.6 -0.5 V0.5 M-1.5 -1.1 V1.1 M0.4 0 m-1 0 a1 1.7 0 1 0 2 0 a1 1.7 0 1 0 -2 0 M2.5 -1 V1" fill="none" stroke="#33333b" stroke-width="0.55"/></g><rect x="37.3" y="279.6" width="4.6" height="4.6" rx="0.8" fill="#e3e3e7"/><path d="M38.9 283.0 V280.8 H40 Q40.7 280.8 40.7 281.4 Q40.7 281.9 40 281.9 H38.9 M40 281.9 L40.7 283.0" fill="none" stroke="#8b8b93" stroke-width="0.45"/><circle cx="51" cy="281.3" r="3.9" fill="#fff" stroke="#dcdce1" stroke-width="0.5"/><path d="M51.58 281.89 L49.52 279.44" stroke="#23266f" stroke-width="0.95" stroke-linecap="round"/><text x="54.2" y="286.9" font-size="2.4" fill="#8a8a92">Vol</text><path d="M61.2 283.5 V281.9 A2 2.2 0 0 1 65.2 281.9 V283.5" fill="none" stroke="#55555f" stroke-width="0.5"/><path d="M61.2 282.3 v1.3 M65.2 282.3 v1.3" stroke="#55555f" stroke-width="0.85"/><path d="M73.6 281.2 h1.2 l1.5 -1.3 v4 l-1.5 -1.3 h-1.2Z M77.3 281.1 q0.7 0.8 0 1.6" fill="none" stroke="#8a8a93" stroke-width="0.5"/><path d="M85.2 280.3 q1.5 -0.6 1.2 0.8 q-0.3 1 -1.4 1.8 h1.8 M88.6 280.9 q-1.4 0.3 -0.6 1.2 q-1.2 0.6 0.2 1.6" fill="none" stroke="#3a3a44" stroke-width="0.7" stroke-linecap="round"/><circle cx="27" cy="301.0" r="5.5" fill="#fff"/><g transform="translate(27 301.0)"><path d="M-2.6 -0.5 V0.5 M-1.5 -1.1 V1.1 M0.4 0 m-1 0 a1 1.7 0 1 0 2 0 a1 1.7 0 1 0 -2 0 M2.5 -1 V1" fill="none" stroke="#33333b" stroke-width="0.55"/></g><rect x="37.3" y="301.8" width="4.6" height="4.6" rx="0.8" fill="#e3e3e7"/><path d="M38.9 305.2 V303.0 H40 Q40.7 303.0 40.7 303.6 Q40.7 304.1 40 304.1 H38.9 M40 304.1 L40.7 305.2" fill="none" stroke="#8b8b93" stroke-width="0.45"/><circle cx="51" cy="303.5" r="3.9" fill="#fff" stroke="#dcdce1" stroke-width="0.5"/><path d="M51.58 304.12 L49.52 301.67" stroke="#23266f" stroke-width="0.95" stroke-linecap="round"/><text x="54.2" y="309.1" font-size="2.4" fill="#8a8a92">Vol</text><path d="M61.2 305.7 V304.1 A2 2.2 0 0 1 65.2 304.1 V305.7" fill="none" stroke="#55555f" stroke-width="0.5"/><path d="M61.2 304.5 v1.3 M65.2 304.5 v1.3" stroke="#55555f" stroke-width="0.85"/><path d="M73.6 303.4 h1.2 l1.5 -1.3 v4 l-1.5 -1.3 h-1.2Z M77.3 303.3 q0.7 0.8 0 1.6" fill="none" stroke="#8a8a93" stroke-width="0.5"/><path d="M85.2 302.5 q1.5 -0.6 1.2 0.8 q-0.3 1 -1.4 1.8 h1.8 M88.6 303.1 q-1.4 0.3 -0.6 1.2 q-1.2 0.6 0.2 1.6" fill="none" stroke="#3a3a44" stroke-width="0.7" stroke-linecap="round"/><rect x="21.4" y="317.7" width="11.2" height="11.2" rx="3.4" fill="#ece5fa"/><rect x="24" y="320.4" width="5.8" height="5.8" rx="0.5" fill="#6a3cc6"/><path d="M24.6 322.3 h4.6 M26.9 322.3 v3.3 M25.4 324.2 h0.8 M27.7 324.2 h0.8" stroke="#efe8fb" stroke-width="0.6" fill="none"/><rect x="37.3" y="324.1" width="4.6" height="4.6" rx="0.8" fill="#e3e3e7"/><path d="M38.9 327.5 V325.3 H40 Q40.7 325.3 40.7 325.9 Q40.7 326.4 40 326.4 H38.9 M40 326.4 L40.7 327.5" fill="none" stroke="#8b8b93" stroke-width="0.45"/><circle cx="51" cy="325.8" r="3.9" fill="#fff" stroke="#dcdce1" stroke-width="0.5"/><path d="M51.58 326.35 L49.52 323.90" stroke="#23266f" stroke-width="0.95" stroke-linecap="round"/><text x="54.2" y="331.4" font-size="2.4" fill="#8a8a92">Vol</text><path d="M61.2 328.0 V326.4 A2 2.2 0 0 1 65.2 326.4 V328.0" fill="none" stroke="#55555f" stroke-width="0.5"/><path d="M61.2 326.8 v1.3 M65.2 326.8 v1.3" stroke="#55555f" stroke-width="0.85"/><path d="M73.6 325.7 h1.2 l1.5 -1.3 v4 l-1.5 -1.3 h-1.2Z M77.3 325.6 q0.7 0.8 0 1.6" fill="none" stroke="#8a8a93" stroke-width="0.5"/><path d="M85.2 324.8 q1.5 -0.6 1.2 0.8 q-0.3 1 -1.4 1.8 h1.8 M88.6 325.4 q-1.4 0.3 -0.6 1.2 q-1.2 0.6 0.2 1.6" fill="none" stroke="#3a3a44" stroke-width="0.7" stroke-linecap="round"/></svg>
<div class="abs" style="left:17px;top:335.0px;width:431px;height:11.6px;background:#f4f4f5"></div>
<div class="pill" style="left:98px;top:339.6px;width:318px;height:2.6px;background:#e3e3e6"></div>
<div class="pill" style="left:122px;top:339.3px;width:43px;height:3.2px;background:#fff;box-shadow:0 0 .6px rgba(0,0,0,.25)"></div>
<svg class="abs" style="left:419px;top:337.7px" width="20" height="8" viewBox="0 0 20 8"><g fill="none" stroke="#6d6d75" stroke-width="0.55"><circle cx="3.8" cy="3.6" r="1.7"/><path d="M5 4.9 L6.2 6.1 M3 3.6 H4.6 M3.8 2.8 V4.4"/><circle cx="15.2" cy="3.6" r="1.7"/><path d="M16.4 4.9 L17.6 6.1 M14.4 3.6 H16"/></g></svg>
<div class="abs" style="left:444px;top:30.6px;width:4px;height:316px;background:#fbfbfc"></div>
<div class="abs" style="left:447.5px;top:30.6px;width:134.5px;height:316px;background:#fff"></div>
<div class="abs" style="left:447.5px;top:33.2px;width:134.5px;height:38.6px;background:#52a1ba"></div>
<div class="t" style="left:454.2px;top:41.53px;font-size:6.3px;color:#fff;">Collaborators</div>
<svg class="abs" style="left:443px;top:55px" width="6" height="10" viewBox="0 0 6 10"><path d="M5 1.5 L1.8 5 L5 8.5Z" fill="#52a1ba"/></svg>
<svg class="abs" style="left:447px;top:48px" width="136" height="24" viewBox="447 48 136 24">
<circle cx="460" cy="59.8" r="5.7" fill="none" stroke="#fff" stroke-width="0.9" opacity=".6"/><path d="M457.7 59.8 h4.6 M460 57.5 v4.6" stroke="#fff" stroke-width="0.7" opacity=".95"/>
<circle cx="474.2" cy="59.6" r="7" fill="#e6d6e4" opacity=".9"/><circle cx="474.2" cy="59.6" r="6" fill="#6e1c3c"/>
<clipPath id="av1"><circle cx="474.2" cy="59.6" r="6"/></clipPath><g clip-path="url(#av1)"><path d="M468 56 Q470 52 475 53.5 Q473 58 472 66 L468 66Z" fill="#2a141c"/><ellipse cx="475.6" cy="58.6" rx="2.8" ry="3.3" fill="#c9867a"/><ellipse cx="476.6" cy="58" rx="1.4" ry="1.8" fill="#e3a596"/><ellipse cx="475.4" cy="65.4" rx="5" ry="2.8" fill="#c0524e"/></g>
<rect x="477.4" y="62.4" width="3.2" height="3.2" rx="0.8" fill="#6fd192" stroke="#eafff0" stroke-width="0.5"/>
<circle cx="488.8" cy="59.6" r="7" fill="#e6d6e4" opacity=".9"/><circle cx="488.8" cy="59.6" r="6" fill="#8a2a52"/>
<clipPath id="av2"><circle cx="488.8" cy="59.6" r="6"/></clipPath><g clip-path="url(#av2)"><rect x="482" y="53" width="4.4" height="14" fill="#5c1a3a"/><ellipse cx="489.6" cy="58.2" rx="3" ry="3.6" fill="#e3c3ba"/><ellipse cx="490.6" cy="57.4" rx="1.6" ry="2" fill="#f3ddd6"/><ellipse cx="489.6" cy="65.6" rx="5" ry="2.6" fill="#c9a4c4"/></g>
<rect x="491" y="62.4" width="3.2" height="3.2" rx="0.8" fill="#6fd192" stroke="#eafff0" stroke-width="0.5"/>
<rect x="538.2" y="53.8" width="41" height="12" rx="6" fill="none" stroke="#fff" stroke-width="0.9" opacity=".72"/>
<path d="M543.4 61.6 q-0.3 -3 3 -3 q3.3 0 3 3 h-1.8 v-1.2 h-2.4 v1.2Z" fill="#fff"/>
</svg>
<div class="t" style="left:551.8px;top:58.80px;font-size:5px;color:#fff;font-weight:bold;transform:scaleX(.86);transform-origin:0 50%;">Leave Call</div>
<svg class="abs" style="left:447.5px;top:71.8px" width="134.5" height="90" viewBox="447.5 71.8 134.5 90">
<defs>
<linearGradient id="vbg" x1="0" y1="0" x2="1" y2="0.55"><stop offset="0" stop-color="#521532"/><stop offset="0.5" stop-color="#6c1c47"/><stop offset="0.8" stop-color="#82215a"/><stop offset="1" stop-color="#96266a"/></linearGradient>
<linearGradient id="vbt" x1="0" y1="0" x2="0" y2="1"><stop offset="0" stop-color="#0a0408" stop-opacity="0"/><stop offset="0.45" stop-color="#0a0408" stop-opacity="0.82"/><stop offset="1" stop-color="#0a0408" stop-opacity="0.95"/></linearGradient>
<linearGradient id="pip" x1="0" y1="0" x2="1" y2="0.8"><stop offset="0" stop-color="#7a3292"/><stop offset="0.55" stop-color="#9a4aa8"/><stop offset="1" stop-color="#a2408a"/></linearGradient>
<linearGradient id="swt" x1="0" y1="0" x2="1" y2="0.3"><stop offset="0" stop-color="#bd5149"/><stop offset="0.35" stop-color="#d66a5b"/><stop offset="0.8" stop-color="#e48571"/><stop offset="1" stop-color="#d46c5d"/></linearGradient>
<filter id="b1" x="-20%" y="-20%" width="140%" height="140%"><feGaussianBlur stdDeviation="1.1"/></filter>
<filter id="b2" x="-20%" y="-20%" width="140%" height="140%"><feGaussianBlur stdDeviation="0.55"/></filter>
<filter id="b3" x="-20%" y="-20%" width="140%" height="140%"><feGaussianBlur stdDeviation="3"/></filter>
<clipPath id="vc"><rect x="447.5" y="71.8" width="134.5" height="90"/></clipPath>
</defs>
<g clip-path="url(#vc)">
<rect x="447.5" y="71.8" width="134.5" height="90" fill="url(#vbg)"/>
<g filter="url(#b3)">
<ellipse cx="562" cy="136" rx="46" ry="22" fill="#bb2e7c" opacity=".95"/>
<ellipse cx="452" cy="80" rx="16" ry="12" fill="#4a122c" opacity=".8"/>
</g>
<g filter="url(#b1)">
<!-- headphone cup + band -->
<path d="M470.5 71 Q469 80 471.5 88 Q476.5 90 478 83 Q477.5 75 476 71Z" fill="#1a1016"/>
<!-- hair -->
<path d="M476 71 H505 Q506.5 75 504 76.5 Q495 73 485.5 76 Q481 79 479.5 85 Q476.5 80 476 71Z" fill="#2a171c"/>
<!-- face -->
<path d="M478 80 Q485 73 500 75.5 Q508 82 505.5 92 Q502.5 100.5 494 100.5 Q484 98.5 479 92Z" fill="#9a5440"/>
<ellipse cx="494" cy="85.5" rx="7" ry="7.5" fill="#b87458" opacity=".75"/><ellipse cx="497" cy="86.5" rx="3.6" ry="4.2" fill="#d39474" opacity=".8"/><ellipse cx="489" cy="78.5" rx="5" ry="2.4" fill="#b87458" opacity=".7"/>
<path d="M487 80.5 Q492 79 497.5 81.5" stroke="#3a1c18" stroke-width="1" fill="none"/><path d="M499 84 Q502.5 88 500 92" stroke="#6a3226" stroke-width="1" fill="none"/>
<path d="M491 96.5 Q499 99.5 505 92.5 L504.5 97.5 Q499 102.5 492 100.5Z" fill="#4a201c"/>
<!-- neck -->
<path d="M475.5 88 L492 99.5 L487 105 L473.5 97Z" fill="#78392c"/>
<!-- sweater main -->
<path d="M446 101 Q451 91 461 88.5 Q470 86.5 476 90.5 Q482 98.5 492 101.5 Q500 100.5 506 93.5 Q516 88.5 524 96 Q529.5 106 527.5 120 L524 131 L511 135 Q500 124 486 122.5 Q468 122.5 460 130 L446 143Z" fill="url(#swt)"/>
<!-- sweater shading left / under arm -->
<path d="M446 112 Q452 106 458 112 Q462 122 458 132 L446 146Z" fill="#a84a40" opacity=".85"/>
<path d="M446 128 L456 122 L462 130 L450 146 L446 148Z" fill="#3a1420" opacity=".85"/>
<!-- stripes -->
<g stroke="#a5463f" stroke-width="1.2" fill="none" opacity=".85">
<path d="M462 96 Q470 93 476 96" opacity=".5"/><path d="M456 103 Q468 99 478 104" opacity=".5"/><path d="M484 103 Q500 106 522 98"/><path d="M486 107.5 Q502 111 526 103"/><path d="M489 112 Q506 116 527.5 109"/><path d="M494 116.5 Q510 121 527.5 115"/><path d="M500 121.5 Q512 125.5 527 121"/><path d="M506 127 Q516 130 525 127"/>
</g>
<!-- guitar body -->
<path d="M462 128 Q478 119.5 497 123 Q503 128 499 136 Q494 142.5 480 142.5 Q466 141.5 458 137Z" fill="#641822"/>
<path d="M470 128 Q484 123 495 127 Q496 133 490 137.5 Q478 139 468 135Z" fill="#8a2230" opacity=".8"/>
<!-- picking hand + forearm -->
<path d="M446 139.5 Q462 136 478 137.5 Q488 138.5 489 142.5 Q486 146.5 474 147.5 L446 148.5Z" fill="#c47c66"/>
<path d="M470 138 Q482 137.5 489 141.5 Q484 143.5 474 142.5Z" fill="#e3a48e" opacity=".8"/>
</g>
<g filter="url(#b2)">
<!-- neck: from (491,139) to (582,117.5); slope -0.293 -->
<path d="M490 134 L582 113.6 L582 120.8 L492 146.5Z" fill="#3e1622"/>
<path d="M492 143.5 L582 118.8 L582 120.6 L492.5 146.2Z" fill="#c98aa2" opacity=".85"/>
<circle cx="494.5" cy="136.5" r="3.2" fill="#9a3c8c"/>
<g fill="#ecd6dc">
<path d="M503 135.2 l2.6 -0.7 l0.3 5.4 l-2.6 0.8Z"/><path d="M509.2 133.6 l2.6 -0.7 l0.3 5.3 l-2.6 0.8Z"/><path d="M515.4 132 l2.5 -0.7 l0.3 5.2 l-2.5 0.8Z"/>
<path d="M541 125.2 l2.6 -0.7 l0.3 4.6 l-2.6 0.8Z"/><path d="M550.2 122.8 l2.5 -0.7 l0.3 4.3 l-2.5 0.7Z"/><path d="M559 120.6 l2.4 -0.6 l0.3 4 l-2.4 0.7Z"/><path d="M567.4 118.5 l2.2 -0.6 l0.3 3.7 l-2.2 0.7Z"/><path d="M575 116.6 l2 -0.5 l0.3 3.4 l-2 0.6Z"/>
</g>
<!-- fretting hand -->
<path d="M520.5 129 Q523 123 529 122.5 Q537 123 540.5 129 Q542 136 539 141.5 Q531 145 525 142 Q520.5 136.5 520.5 129Z" fill="#93503e"/>
<path transform="translate(0 -2)" d="M522.5 130 q1.2 -3.8 3 -3.4 q1.4 0.6 0.6 4.2 l-1 5.6 q-1.6 1.2 -2.6 -0.4Z M527.6 129 q1.2 -4.2 3.2 -3.8 q1.6 0.8 0.6 4.6 l-1 5.6 q-1.8 1 -2.8 -0.4Z M533 129.6 q1.4 -3.6 3.2 -3 q1.6 1 0.4 4.4 l-1.4 5 q-1.8 0.8 -2.6 -0.6Z" fill="#e3ad9c"/>
</g>
<!-- PIP -->
<rect x="536.1" y="78.2" width="43.2" height="38.3" fill="url(#pip)"/>
<g filter="url(#b2)">
<rect x="545.7" y="79.5" width="1.1" height="12.2" fill="#3c2060"/>
<path d="M551 116.5 Q550.5 103 556 97.5 Q562 93 568.5 95 Q573.5 99 573 107 L572.5 116.5Z" fill="#4f46a6"/>
<path d="M558 97 Q563 94 568 96.5 L566 101 Q561 99.5 558 101Z" fill="#7a78d0" opacity=".8"/>
<path d="M545.5 112 Q548 105.5 553.5 103.5 Q557 104.5 556.5 108.5 Q553 112 552 116.5 L546.5 116.5Z" fill="#d8b8c4"/>
<ellipse cx="561.6" cy="86.6" rx="4.3" ry="5.3" fill="#dcc3cc"/>
<path d="M558 90 Q560 93.5 564 92 L564 95 Q560 96 558.5 94Z" fill="#c4a2ae"/>
<path d="M563.5 81.5 Q567.8 83 566.6 90" stroke="#2c1c38" stroke-width="1.3" fill="none"/>
<rect x="564.6" y="84.2" width="2.5" height="4.6" rx="1" fill="#2c1c38"/>
</g>
<rect x="536.1" y="78.2" width="43.2" height="38.3" fill="none" stroke="#dba8d6" stroke-width="0.6"/>
<!-- bottom dark bar -->
<rect x="447.5" y="140" width="134.5" height="22" fill="url(#vbt)"/>
<g fill="none" stroke="#b9b9c2" stroke-width="0.6" opacity=".75">
<circle cx="459" cy="153.6" r="1.9"/><path d="M457.2 153.6 h3.6 M459 151.8 v3.6"/><path d="M497 151.2 v2.6 m-1.2 -0.6 q1.2 1.8 2.4 0 M497 155 v0.8"/><rect x="517" y="152" width="4" height="2.8"/><path d="M521 153 l1.4 -0.8 v2.4 l-1.4 -0.8"/><path d="M544.6 155 L547.6 152 M545.8 151.8 h2 v2"/><path d="M568.6 152.6 l1.8 -1.3 l1.8 1.3 v2.6 h-3.6Z"/>
</g>
</g>
</svg>
<div class="abs" style="left:502px;top:276px;width:74px;height:13.6px;background:#4e9db6;border-radius:2px"></div>
<div class="t" style="left:503.8px;top:283.83px;font-size:3.8px;color:#e2f1f6;font-weight:bold;">Let's make this!!</div>
<div class="abs" style="left:450.6px;top:155.6px;width:128.2px;height:126.3px;background:#fff;border-radius:1.5px;box-shadow:0 2px 6px rgba(0,0,0,.28),0 0 1.5px rgba(0,0,0,.2)"></div>
<svg class="abs" style="left:456px;top:163.7px" width="8" height="7" viewBox="0 0 8 7"><path d="M1.2 2.6 h1.1 l1.4 -1.2 v4.2 l-1.4 -1.2 h-1.1Z M4.8 2.2 q0.9 1.3 0 2.6 M5.9 1.4 q1.5 2.1 0 4.2" fill="none" stroke="#74747c" stroke-width="0.6"/></svg>
<div class="t" style="left:467.8px;top:166.11px;font-size:5.8px;color:#3a3a42;-webkit-text-stroke:0.15px #3a3a42;">Share project audio</div>
<svg class="abs" style="left:520.6px;top:164.3px" width="6" height="6" viewBox="0 0 6 6"><circle cx="3" cy="3" r="2.1" fill="none" stroke="#a9a9b0" stroke-width="0.5"/><path d="M3 2.6 v1.6 M3 1.7 v0.4" stroke="#a9a9b0" stroke-width="0.5"/></svg>
<div class="pill" style="left:557.4px;top:164px;width:10.6px;height:6.4px;background:#3db764"></div><div class="pill" style="left:562.6px;top:164.8px;width:4.8px;height:4.8px;background:#fff"></div>
<div class="abs" style="left:450.6px;top:177.9px;width:128.2px;height:0.6px;background:#e4e4e8"></div>
<div class="t" style="left:457.8px;top:189.12px;font-size:5.5px;color:#2d2d35;font-weight:bold;">Input device:</div>
<svg class="abs" style="left:458.6px;top:203.2px" width="7" height="6" viewBox="0 0 7 6"><path d="M1 3.2 L2.6 4.8 L5.8 1" fill="none" stroke="#3a1a8a" stroke-width="0.9"/></svg>
<div class="t" style="left:467.4px;top:204.29px;font-size:5.3px;color:#4a1db0;font-weight:bold;letter-spacing:0.12px;">Standard - M-Audio Fast Track C600</div>
<div class="t" style="left:467.4px;top:219.72px;font-size:5.5px;color:#33333b;letter-spacing:0.18px;">Internal Microphone (Built-in)</div>
<div class="t" style="left:467.4px;top:235.12px;font-size:5.5px;color:#33333b;letter-spacing:0.2px;">M-Audio Fast Track C600</div>
<div class="abs" style="left:450.6px;top:251.2px;width:128.2px;height:0.6px;background:#e4e4e8"></div>
<svg class="abs" style="left:458px;top:263px" width="7" height="7" viewBox="0 0 7 7"><path d="M1.2 5.8 L1.6 4.2 L4.8 1 L6 2.2 L2.8 5.4 Z" fill="none" stroke="#8c8c94" stroke-width="0.5"/></svg>
<div class="t" style="left:467.4px;top:262.02px;font-size:5.5px;color:#2d2d35;font-weight:bold;">Set up voice tracks</div>
<div class="t" style="left:467.4px;top:269.21px;font-size:4.7px;color:#a4a4ab;letter-spacing:0.08px;">For recording calls</div>
<svg class="abs" style="left:452px;top:291px" width="16" height="16" viewBox="452 291 16 16"><circle cx="460" cy="298.8" r="5.5" fill="#1c0f2e"/><ellipse cx="461.6" cy="297.2" rx="1.8" ry="2.1" fill="#8a3a7a"/><ellipse cx="461.8" cy="301.8" rx="2.6" ry="1.6" fill="#4a2a6a"/><circle cx="463.6" cy="303" r="1.1" fill="#3fbf6a" stroke="#fff" stroke-width="0.3"/></svg>
<div class="abs" style="left:471px;top:294.8px;width:71.6px;height:18.4px;background:#e6e6ea;border-radius:2px"></div>
<div class="t" style="left:473.4px;top:300.00px;font-size:3.9px;color:#9b9ba3;">Jacob Stevens</div>
<div class="t" style="left:473.4px;top:306.31px;font-size:4.7px;color:#24242c;font-weight:bold;">Yeah, sure!</div>
<div class="t" style="left:530.4px;top:307.45px;font-size:3.2px;color:#b3b3ba;">22:18</div>
<div class="abs" style="left:451px;top:319px;width:127.8px;height:21.6px;background:#fff;border:0.6px solid #e0e0e5;border-radius:1.2px"></div>
<div class="t" style="left:453.6px;top:324.44px;font-size:4.9px;color:#c6c6cc;letter-spacing:0.13px;">Say something to your collaborators...</div>
<svg class="abs" style="left:380px;top:28px" width="70" height="46" viewBox="380 28 70 46">
<rect x="386.5" y="31" width="57.5" height="15" fill="#fcfcfd"/><circle cx="393.9" cy="38.3" r="4.3" fill="#4b1db6"/>
<path d="M391.6 39.8 v-1.2 a2.2 2.3 0 0 1 4.4 0 v1.2" fill="none" stroke="#f0b6d8" stroke-width="0.7"/><path d="M391.7 38.9 v1.5 M395.9 38.9 v1.5" stroke="#f0b6d8" stroke-width="1.1"/>
<circle cx="405.5" cy="38.3" r="2.8" fill="#d0d0d5"/><circle cx="405.5" cy="38.3" r="1.1" fill="#b9b9c0"/>
<path d="M418.8 37.4 A2.3 2.3 0 1 0 419 39.6" fill="none" stroke="#a8a8b0" stroke-width="0.7"/><path d="M417.4 36.8 L419 37.5 L419.4 35.8" fill="none" stroke="#a8a8b0" stroke-width="0.6"/>
<rect x="433.6" y="46" width="1" height="12" fill="#d9c9ec"/>
<circle cx="434" cy="42" r="7.6" fill="#4b1db6"/>
<path d="M432.3 44.6 v-4.6 l3.8 -0.9 v4.6" fill="none" stroke="#f3c4e6" stroke-width="0.8"/><ellipse cx="431.4" cy="44.7" rx="1.2" ry="0.9" fill="#f3c4e6"/><ellipse cx="435.2" cy="43.8" rx="1.2" ry="0.9" fill="#f3c4e6"/>
<circle cx="434.3" cy="61.1" r="7.5" fill="#52a1ba"/>
<g transform="translate(0.3 0.2)" fill="none" stroke="#fff" stroke-width="0.8"><circle cx="432" cy="58.8" r="1.1"/><circle cx="436" cy="58.8" r="1.1"/><path d="M430.2 64 v-1.8 q0 -1.4 1.8 -1.4 q1.6 0 1.6 1.4 v1.8 M434.4 64 v-1.8 q0 -1.4 1.6 -1.4 q1.8 0 1.8 1.4 v1.8"/></g>
</svg>
<div class="abs" style="left:17px;top:346.6px;width:565px;height:22.4px;background:#fff;border-top:0.6px solid #e8e8eb"></div>
<svg class="abs" style="left:0;top:340px" width="600" height="40" viewBox="0 340 600 40"><g><path d="M24.2 357.8 h1 l1.1 -0.9 v3.6 l-1.1 -0.9 h-1Z" fill="none" stroke="#c2c2c8" stroke-width="0.5"/><rect x="36" y="358.6" width="42" height="0.6" fill="#c9c9cf"/><circle cx="68" cy="358.9" r="4.3" fill="#fff" stroke="#b9b9c0" stroke-width="0.5"/><circle cx="143" cy="358.9" r="6" fill="#f4f4f5"/><circle cx="143" cy="358.9" r="3" fill="#e8264b"/><circle cx="161" cy="358.9" r="6" fill="#f4f4f5"/><path d="M159.1 356.8 v4.2 M163 356.8 L160 358.9 L163 361 Z" fill="#18181f" stroke="#18181f" stroke-width="0.7" stroke-linejoin="round"/><circle cx="180" cy="358.9" r="6" fill="#f4f4f5"/><path d="M180 356.9 L177.2 358.9 L180 360.9 Z M183 356.9 L180.2 358.9 L183 360.9 Z" fill="#18181f"/><circle cx="199" cy="358.9" r="6" fill="#f4f4f5"/><path d="M197.6 356.6 L201.2 358.9 L197.6 361.2 Z" fill="#18181f"/><circle cx="217.5" cy="358.9" r="6" fill="#f4f4f5"/><path d="M214.6 356.9 L217.4 358.9 L214.6 360.9 Z M217.6 356.9 L220.4 358.9 L217.6 360.9 Z" fill="#18181f"/><rect x="298.6" y="355.3" width="13.4" height="7.2" rx="3.6" fill="#fff" stroke="#6a2fc0" stroke-width="0.8"/><circle cx="318" cy="358.4" r="2" fill="none" stroke="#9a9aa2" stroke-width="0.6"/><circle cx="318" cy="358.4" r="0.7" fill="#9a9aa2"/></g></svg>
<div class="t" style="left:97px;top:355.89px;font-size:9.2px;color:#1c1c24;letter-spacing:-0.2px;-webkit-text-stroke:0.22px #1c1c24;">00:42.0</div>
<div class="t" style="left:245.6px;top:357.87px;font-size:4.8px;color:#5a22b5;font-weight:bold;">F<span style="font-size:3px;position:relative;top:-1.5px">#</span>m</div>
<div class="t" style="left:275px;top:357.87px;font-size:4.8px;color:#5a22b5;font-weight:bold;">123</div>
<div class="t" style="left:302.5px;top:358.40px;font-size:3.6px;color:#5a22b5;font-weight:bold;">Off</div>
<div class="pill" style="left:529px;top:350.2px;width:46.5px;height:15px;background:#c9c9ce"></div>
<svg class="abs" style="left:534px;top:353.2px" width="9" height="9" viewBox="0 0 9 9"><circle cx="4.4" cy="4.2" r="3.1" fill="none" stroke="#26262e" stroke-width="0.7"/><text x="4.4" y="5.9" font-size="4.6" font-weight="bold" text-anchor="middle" fill="#26262e" font-family="Liberation Sans">?</text></svg>
<div class="t" style="left:546.6px;top:355.52px;font-size:5.5px;color:#26262e;font-weight:bold;">Support</div>
</div></body></html>
